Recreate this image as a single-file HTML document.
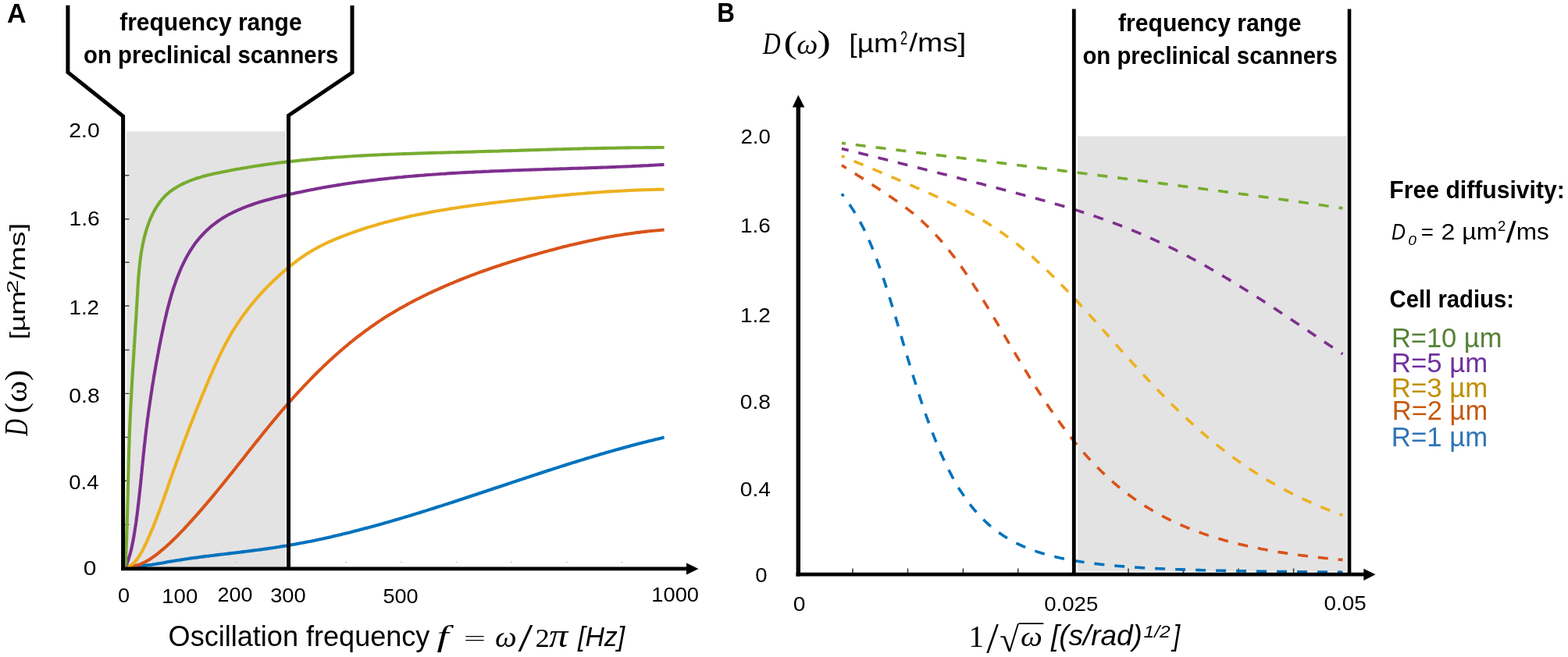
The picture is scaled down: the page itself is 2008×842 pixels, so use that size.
<!DOCTYPE html><html><head><meta charset="utf-8"><title>Diffusion spectrum D(ω)</title>
<style>html,body{margin:0;padding:0;background:#fff;overflow:hidden;width:2008px;height:842px;}svg{display:block;}text{white-space:pre;}</style></head><body>
<svg width="2008" height="842" viewBox="0 0 2008 842">
<rect width="2008" height="842" fill="#fff"/>
<rect x="162" y="168.3" width="203.6" height="558.5" fill="#e3e3e3"/>
<rect x="1380" y="174.6" width="344.5" height="557.6" fill="#e3e3e3"/>
<path d="M160,224.8h5.5M160,280.7h5.5M160,336.2h5.5M160,392.0h5.5M160,448.5h5.5M160,504.4h5.5M160,560.4h5.5M160,616.3h5.5M160,672.4h5.5" stroke="#444" stroke-width="1.4" fill="none"/>
<path d="M229.5,720.5h2M300.8,720.5h2M442.2,720.5h2M513.1,720.5h2M583.6,720.5h2M653.8,720.5h2M724.8,720.5h2M795.3,720.5h2" stroke="#bbb" stroke-width="1.2" fill="none"/>
<path d="M1092.0,734v-5.5M1162.5,734v-5.5M1233.4,734v-5.5M1303.7,734v-5.5M1445.0,734v-5.5M1515.5,734v-5.5M1586.0,734v-5.5M1656.6,734v-5.5" stroke="#333" stroke-width="1.5" fill="none"/>
<path d="M161.0,725.9 L163.4,725.9 L165.8,726.0 L168.2,726.0 L170.5,725.9 L172.9,725.8 L175.3,725.7 L177.6,725.5 L180.0,725.4 L182.4,725.1 L184.7,724.9 L187.1,724.6 L189.4,724.3 L191.8,724.0 L194.2,723.7 L196.5,723.3 L198.9,723.0 L201.2,722.6 L203.5,722.2 L205.9,721.8 L208.2,721.4 L210.6,721.0 L212.9,720.6 L215.3,720.1 L217.6,719.7 L220.0,719.3 L222.3,718.9 L224.7,718.5 L227.0,718.1 L229.4,717.8 L231.7,717.4 L234.1,717.0 L236.4,716.7 L238.8,716.3 L241.1,716.0 L243.5,715.6 L245.8,715.3 L248.2,715.0 L250.5,714.7 L252.9,714.4 L255.2,714.0 L257.6,713.7 L260.0,713.4 L262.3,713.1 L264.7,712.8 L267.1,712.6 L269.4,712.3 L271.8,712.0 L274.1,711.7 L276.5,711.4 L278.9,711.1 L281.2,710.8 L283.6,710.5 L286.0,710.3 L288.3,710.0 L290.7,709.7 L293.1,709.4 L295.4,709.1 L297.8,708.8 L300.2,708.6 L302.6,708.3 L304.9,708.0 L307.3,707.7 L309.7,707.4 L312.0,707.1 L314.4,706.8 L316.8,706.5 L319.1,706.2 L321.5,705.9 L323.9,705.6 L326.2,705.3 L328.6,705.0 L331.0,704.7 L333.3,704.4 L335.7,704.1 L338.0,703.7 L340.4,703.4 L342.8,703.1 L345.1,702.7 L347.5,702.4 L349.8,702.0 L352.2,701.7 L354.5,701.3 L356.9,701.0 L359.2,700.6 L361.6,700.2 L363.9,699.8 L366.3,699.5 L368.6,699.1 L371.0,698.7 L373.3,698.2 L375.7,697.8 L378.0,697.4 L380.3,697.0 L382.7,696.6 L385.0,696.1 L387.3,695.7 L389.7,695.2 L392.0,694.8 L394.3,694.3 L396.7,693.9 L399.0,693.4 L401.3,692.9 L403.7,692.4 L406.0,691.9 L408.3,691.5 L410.6,691.0 L412.9,690.5 L415.3,690.0 L417.6,689.4 L419.9,688.9 L422.2,688.4 L424.5,687.9 L426.8,687.3 L429.2,686.8 L431.5,686.3 L433.8,685.7 L436.1,685.2 L438.4,684.6 L440.7,684.1 L443.0,683.5 L445.3,682.9 L447.6,682.4 L449.9,681.8 L452.2,681.2 L454.5,680.6 L456.8,680.0 L459.1,679.4 L461.4,678.8 L463.7,678.2 L466.0,677.6 L468.3,677.0 L470.6,676.4 L472.9,675.8 L475.2,675.2 L477.5,674.5 L479.8,673.9 L482.1,673.3 L484.4,672.7 L486.7,672.0 L489.0,671.4 L491.2,670.7 L493.5,670.1 L495.8,669.4 L498.1,668.8 L500.4,668.1 L502.7,667.4 L504.9,666.8 L507.2,666.1 L509.5,665.4 L511.8,664.8 L514.1,664.1 L516.4,663.4 L518.6,662.7 L520.9,662.1 L523.2,661.4 L525.5,660.7 L527.7,660.0 L530.0,659.3 L532.3,658.6 L534.6,657.9 L536.8,657.2 L539.1,656.5 L541.4,655.8 L543.7,655.1 L545.9,654.4 L548.2,653.6 L550.5,652.9 L552.7,652.2 L555.0,651.5 L557.3,650.8 L559.6,650.0 L561.8,649.3 L564.1,648.6 L566.4,647.9 L568.6,647.1 L570.9,646.4 L573.2,645.7 L575.4,644.9 L577.7,644.2 L580.0,643.5 L582.2,642.7 L584.5,642.0 L586.8,641.2 L589.0,640.5 L591.3,639.8 L593.6,639.0 L595.8,638.3 L598.1,637.5 L600.3,636.8 L602.6,636.0 L604.9,635.3 L607.1,634.5 L609.4,633.8 L611.7,633.0 L613.9,632.3 L616.2,631.5 L618.4,630.8 L620.7,630.0 L623.0,629.3 L625.2,628.5 L627.5,627.8 L629.8,627.0 L632.0,626.2 L634.3,625.5 L636.5,624.7 L638.8,624.0 L641.1,623.2 L643.3,622.5 L645.6,621.7 L647.9,621.0 L650.1,620.2 L652.4,619.4 L654.6,618.7 L656.9,617.9 L659.2,617.2 L661.4,616.4 L663.7,615.7 L665.9,614.9 L668.2,614.2 L670.5,613.4 L672.7,612.7 L675.0,611.9 L677.3,611.2 L679.5,610.4 L681.8,609.7 L684.0,608.9 L686.3,608.2 L688.6,607.5 L690.8,606.7 L693.1,606.0 L695.4,605.2 L697.6,604.5 L699.9,603.8 L702.2,603.0 L704.4,602.3 L706.7,601.6 L709.0,600.8 L711.2,600.1 L713.5,599.4 L715.8,598.6 L718.0,597.9 L720.3,597.2 L722.6,596.5 L724.8,595.7 L727.1,595.0 L729.4,594.3 L731.6,593.6 L733.9,592.9 L736.2,592.2 L738.5,591.5 L740.7,590.8 L743.0,590.1 L745.3,589.4 L747.6,588.7 L749.8,588.0 L752.1,587.3 L754.4,586.6 L756.7,585.9 L758.9,585.2 L761.2,584.5 L763.5,583.9 L765.8,583.2 L768.0,582.5 L770.3,581.8 L772.6,581.2 L774.9,580.5 L777.2,579.8 L779.5,579.2 L781.7,578.5 L784.0,577.9 L786.3,577.2 L788.6,576.6 L790.9,575.9 L793.2,575.3 L795.5,574.7 L797.7,574.0 L800.0,573.4 L802.3,572.8 L804.6,572.2 L806.9,571.5 L809.2,570.9 L811.5,570.3 L813.8,569.7 L816.1,569.1 L818.4,568.5 L820.7,567.9 L823.0,567.3 L825.3,566.8 L827.6,566.2 L829.9,565.6 L832.2,565.0 L834.5,564.5 L836.8,563.9 L839.1,563.3 L841.4,562.8 L843.7,562.2 L846.0,561.7 L848.3,561.1 L850.6,560.6" fill="none" stroke="#0072BD" stroke-width="4.1" stroke-linejoin="round"/>
<path d="M161.0,725.9 L163.9,726.0 L166.8,725.9 L169.6,725.7 L172.3,725.2 L175.0,724.6 L177.7,723.8 L180.3,722.8 L182.8,721.7 L185.3,720.5 L187.8,719.1 L190.2,717.7 L192.6,716.2 L194.9,714.6 L197.2,713.0 L199.5,711.3 L201.8,709.6 L204.0,707.8 L206.2,706.0 L208.4,704.2 L210.5,702.4 L212.7,700.5 L214.8,698.6 L216.9,696.7 L219.0,694.7 L221.0,692.8 L223.0,690.8 L225.1,688.8 L227.1,686.8 L229.1,684.7 L231.0,682.7 L233.0,680.6 L235.0,678.6 L236.9,676.5 L238.8,674.4 L240.8,672.3 L242.7,670.2 L244.6,668.1 L246.5,666.0 L248.4,663.9 L250.3,661.8 L252.2,659.7 L254.0,657.6 L255.9,655.4 L257.7,653.3 L259.6,651.2 L261.4,649.0 L263.3,646.9 L265.1,644.7 L266.9,642.6 L268.8,640.4 L270.6,638.2 L272.4,636.1 L274.2,633.9 L276.0,631.7 L277.8,629.5 L279.6,627.3 L281.3,625.2 L283.1,623.0 L284.9,620.8 L286.7,618.6 L288.4,616.4 L290.2,614.2 L292.0,612.0 L293.7,609.8 L295.5,607.6 L297.3,605.4 L299.0,603.2 L300.8,601.0 L302.5,598.7 L304.3,596.5 L306.0,594.3 L307.8,592.1 L309.5,589.9 L311.3,587.7 L313.0,585.5 L314.8,583.3 L316.5,581.0 L318.3,578.8 L320.0,576.6 L321.8,574.4 L323.5,572.2 L325.3,570.0 L327.0,567.8 L328.8,565.6 L330.6,563.4 L332.3,561.2 L334.1,559.0 L335.9,556.8 L337.6,554.6 L339.4,552.4 L341.2,550.2 L343.0,548.0 L344.8,545.8 L346.5,543.7 L348.3,541.5 L350.1,539.3 L351.9,537.1 L353.8,535.0 L355.6,532.8 L357.4,530.6 L359.2,528.5 L361.0,526.3 L362.9,524.2 L364.7,522.1 L366.6,519.9 L368.4,517.8 L370.3,515.7 L372.2,513.5 L374.1,511.4 L375.9,509.3 L377.8,507.2 L379.7,505.1 L381.6,503.0 L383.6,500.9 L385.5,498.9 L387.4,496.8 L389.4,494.7 L391.3,492.7 L393.3,490.6 L395.2,488.6 L397.2,486.6 L399.2,484.5 L401.1,482.5 L403.1,480.5 L405.1,478.5 L407.1,476.5 L409.2,474.5 L411.2,472.6 L413.2,470.6 L415.3,468.6 L417.3,466.7 L419.4,464.7 L421.4,462.8 L423.5,460.9 L425.6,459.0 L427.7,457.1 L429.8,455.2 L431.9,453.3 L434.0,451.5 L436.1,449.6 L438.3,447.8 L440.4,445.9 L442.6,444.1 L444.8,442.3 L446.9,440.5 L449.1,438.7 L451.3,437.0 L453.5,435.2 L455.7,433.4 L457.9,431.7 L460.2,430.0 L462.4,428.3 L464.7,426.6 L466.9,424.9 L469.2,423.2 L471.5,421.6 L473.8,419.9 L476.1,418.3 L478.4,416.7 L480.7,415.1 L483.0,413.5 L485.4,411.9 L487.7,410.4 L490.1,408.8 L492.4,407.3 L494.8,405.8 L497.2,404.3 L499.6,402.8 L502.0,401.4 L504.4,399.9 L506.9,398.5 L509.3,397.1 L511.8,395.6 L514.2,394.2 L516.7,392.9 L519.1,391.5 L521.6,390.1 L524.1,388.8 L526.6,387.5 L529.1,386.1 L531.6,384.8 L534.1,383.5 L536.6,382.3 L539.2,381.0 L541.7,379.7 L544.2,378.5 L546.8,377.3 L549.3,376.0 L551.9,374.8 L554.4,373.6 L557.0,372.4 L559.6,371.3 L562.2,370.1 L564.7,369.0 L567.3,367.8 L569.9,366.7 L572.5,365.6 L575.1,364.4 L577.7,363.3 L580.3,362.3 L582.9,361.2 L585.5,360.1 L588.2,359.0 L590.8,358.0 L593.4,356.9 L596.0,355.9 L598.7,354.9 L601.3,353.9 L603.9,352.9 L606.6,351.9 L609.2,350.9 L611.9,349.9 L614.5,348.9 L617.2,348.0 L619.8,347.0 L622.5,346.1 L625.1,345.2 L627.8,344.2 L630.5,343.3 L633.1,342.4 L635.8,341.5 L638.5,340.6 L641.2,339.7 L643.8,338.8 L646.5,338.0 L649.2,337.1 L651.9,336.2 L654.6,335.4 L657.3,334.5 L660.0,333.7 L662.7,332.9 L665.4,332.0 L668.1,331.2 L670.8,330.4 L673.5,329.6 L676.2,328.8 L678.9,328.0 L681.6,327.2 L684.4,326.4 L687.1,325.7 L689.8,324.9 L692.5,324.1 L695.2,323.4 L698.0,322.6 L700.7,321.9 L703.4,321.1 L706.1,320.4 L708.9,319.7 L711.6,319.0 L714.3,318.2 L717.1,317.5 L719.8,316.8 L722.6,316.1 L725.3,315.5 L728.1,314.8 L730.8,314.1 L733.5,313.5 L736.3,312.8 L739.1,312.2 L741.8,311.5 L744.6,310.9 L747.3,310.3 L750.1,309.7 L752.8,309.1 L755.6,308.5 L758.4,307.9 L761.1,307.3 L763.9,306.7 L766.7,306.2 L769.4,305.6 L772.2,305.1 L775.0,304.6 L777.8,304.1 L780.6,303.6 L783.3,303.1 L786.1,302.6 L788.9,302.1 L791.7,301.6 L794.5,301.2 L797.3,300.7 L800.1,300.3 L802.9,299.9 L805.7,299.5 L808.5,299.1 L811.2,298.7 L814.1,298.3 L816.9,297.9 L819.7,297.6 L822.5,297.2 L825.3,296.9 L828.1,296.6 L830.9,296.3 L833.7,296.0 L836.5,295.7 L839.3,295.5 L842.2,295.2 L845.0,295.0 L847.8,294.7 L850.6,294.5" fill="none" stroke="#D95319" stroke-width="4.1" stroke-linejoin="round"/>
<path d="M161.0,725.9 L164.2,725.6 L167.1,724.6 L169.7,722.9 L172.0,720.8 L174.1,718.5 L176.0,716.0 L177.8,713.4 L179.5,710.7 L181.1,708.0 L182.6,705.2 L184.0,702.4 L185.4,699.5 L186.8,696.6 L188.1,693.8 L189.4,690.9 L190.7,688.0 L192.0,685.1 L193.2,682.2 L194.5,679.3 L195.7,676.4 L196.9,673.5 L198.0,670.5 L199.2,667.6 L200.3,664.6 L201.4,661.7 L202.6,658.8 L203.7,655.8 L204.7,652.8 L205.8,649.9 L206.9,646.9 L208.0,644.0 L209.0,641.0 L210.1,638.0 L211.1,635.0 L212.1,632.1 L213.2,629.1 L214.2,626.1 L215.2,623.2 L216.3,620.2 L217.3,617.2 L218.3,614.2 L219.4,611.3 L220.4,608.3 L221.5,605.3 L222.5,602.4 L223.6,599.4 L224.6,596.5 L225.7,593.5 L226.8,590.5 L227.8,587.6 L228.9,584.6 L230.0,581.7 L231.1,578.7 L232.2,575.8 L233.2,572.8 L234.3,569.9 L235.4,566.9 L236.5,564.0 L237.7,561.1 L238.8,558.1 L239.9,555.2 L241.0,552.2 L242.1,549.3 L243.3,546.4 L244.4,543.4 L245.6,540.5 L246.7,537.6 L247.9,534.6 L249.0,531.7 L250.2,528.8 L251.3,525.8 L252.5,522.9 L253.7,520.0 L254.9,517.0 L256.1,514.1 L257.3,511.2 L258.4,508.3 L259.6,505.3 L260.9,502.4 L262.1,499.5 L263.3,496.6 L264.5,493.6 L265.7,490.7 L267.0,487.8 L268.2,484.9 L269.5,481.9 L270.7,479.0 L272.0,476.1 L273.3,473.2 L274.5,470.3 L275.9,467.4 L277.2,464.5 L278.5,461.7 L279.8,458.8 L281.2,455.9 L282.6,453.1 L284.0,450.2 L285.4,447.4 L286.8,444.6 L288.3,441.8 L289.8,439.0 L291.3,436.3 L292.8,433.5 L294.3,430.8 L295.9,428.0 L297.5,425.3 L299.1,422.6 L300.8,420.0 L302.5,417.3 L304.2,414.7 L305.9,412.1 L307.7,409.5 L309.4,406.9 L311.3,404.4 L313.1,401.9 L315.0,399.4 L316.9,396.9 L318.8,394.4 L320.7,392.0 L322.7,389.5 L324.7,387.1 L326.7,384.7 L328.8,382.3 L330.8,380.0 L332.9,377.6 L335.0,375.3 L337.2,373.0 L339.3,370.7 L341.5,368.5 L343.7,366.2 L346.0,364.0 L348.2,361.8 L350.5,359.6 L352.8,357.4 L355.1,355.3 L357.4,353.1 L359.8,351.0 L362.2,348.9 L364.6,346.8 L367.0,344.8 L369.4,342.7 L371.9,340.7 L374.4,338.7 L376.9,336.8 L379.4,334.8 L381.9,332.9 L384.5,331.1 L387.1,329.3 L389.7,327.5 L392.3,325.7 L395.0,324.1 L397.7,322.4 L400.4,320.8 L403.2,319.3 L405.9,317.7 L408.7,316.3 L411.5,314.8 L414.3,313.4 L417.2,312.0 L420.0,310.7 L422.9,309.4 L425.8,308.1 L428.6,306.9 L431.6,305.7 L434.5,304.5 L437.4,303.3 L440.3,302.2 L443.3,301.1 L446.2,300.0 L449.2,298.9 L452.1,297.8 L455.1,296.8 L458.1,295.8 L461.1,294.7 L464.0,293.8 L467.0,292.8 L470.0,291.8 L473.0,290.9 L476.0,290.0 L479.0,289.1 L482.1,288.2 L485.1,287.3 L488.1,286.4 L491.1,285.6 L494.2,284.8 L497.2,284.0 L500.3,283.2 L503.3,282.4 L506.4,281.6 L509.4,280.9 L512.5,280.1 L515.5,279.4 L518.6,278.7 L521.7,278.0 L524.7,277.3 L527.8,276.6 L530.9,276.0 L534.0,275.3 L537.1,274.7 L540.2,274.1 L543.3,273.5 L546.4,272.9 L549.5,272.3 L552.6,271.7 L555.7,271.1 L558.8,270.6 L561.9,270.0 L565.0,269.5 L568.1,269.0 L571.2,268.4 L574.3,267.9 L577.5,267.4 L580.6,266.9 L583.7,266.4 L586.8,266.0 L590.0,265.5 L593.1,265.0 L596.2,264.6 L599.4,264.1 L602.5,263.7 L605.6,263.3 L608.8,262.8 L611.9,262.4 L615.0,262.0 L618.2,261.6 L621.3,261.2 L624.4,260.8 L627.6,260.4 L630.7,260.0 L633.9,259.6 L637.0,259.3 L640.1,258.9 L643.3,258.5 L646.4,258.2 L649.6,257.8 L652.7,257.4 L655.8,257.1 L659.0,256.7 L662.1,256.4 L665.2,256.0 L668.4,255.7 L671.5,255.3 L674.7,255.0 L677.8,254.6 L680.9,254.3 L684.0,254.0 L687.2,253.6 L690.3,253.3 L693.4,253.0 L696.6,252.7 L699.7,252.3 L702.8,252.0 L706.0,251.7 L709.1,251.4 L712.2,251.1 L715.4,250.8 L718.5,250.5 L721.6,250.2 L724.7,249.9 L727.9,249.6 L731.0,249.3 L734.1,249.0 L737.3,248.8 L740.4,248.5 L743.5,248.2 L746.7,248.0 L749.8,247.7 L752.9,247.4 L756.1,247.2 L759.2,247.0 L762.3,246.7 L765.5,246.5 L768.6,246.3 L771.7,246.1 L774.9,245.8 L778.0,245.6 L781.2,245.4 L784.3,245.2 L787.4,245.0 L790.6,244.9 L793.7,244.7 L796.9,244.5 L800.0,244.4 L803.2,244.2 L806.3,244.0 L809.5,243.9 L812.6,243.8 L815.8,243.6 L819.0,243.5 L822.1,243.4 L825.3,243.3 L828.4,243.2 L831.6,243.1 L834.8,243.0 L837.9,243.0 L841.1,242.9 L844.3,242.8 L847.5,242.8 L850.6,242.7" fill="none" stroke="#EDB120" stroke-width="4.1" stroke-linejoin="round"/>
<path d="M161.0,725.9 L162.3,722.7 L163.6,719.5 L164.7,716.2 L165.7,712.9 L166.7,709.6 L167.6,706.2 L168.4,702.8 L169.1,699.4 L169.8,696.0 L170.5,692.5 L171.1,689.1 L171.7,685.6 L172.3,682.2 L172.8,678.7 L173.3,675.2 L173.9,671.8 L174.4,668.3 L174.8,664.8 L175.3,661.3 L175.8,657.9 L176.2,654.4 L176.6,650.9 L177.0,647.4 L177.5,643.9 L177.8,640.4 L178.2,636.9 L178.6,633.4 L179.0,629.9 L179.3,626.4 L179.7,622.9 L180.1,619.4 L180.4,615.9 L180.8,612.4 L181.1,608.9 L181.5,605.4 L181.8,601.9 L182.1,598.4 L182.5,594.9 L182.8,591.4 L183.2,587.9 L183.5,584.4 L183.9,580.9 L184.3,577.4 L184.6,573.9 L185.0,570.4 L185.4,566.9 L185.8,563.5 L186.2,560.0 L186.6,556.5 L187.0,553.0 L187.4,549.5 L187.9,546.1 L188.3,542.6 L188.7,539.1 L189.2,535.7 L189.7,532.2 L190.1,528.7 L190.6,525.3 L191.1,521.8 L191.6,518.3 L192.1,514.9 L192.6,511.4 L193.1,508.0 L193.6,504.5 L194.2,501.1 L194.7,497.6 L195.2,494.2 L195.8,490.7 L196.4,487.3 L196.9,483.8 L197.5,480.4 L198.1,476.9 L198.7,473.5 L199.3,470.0 L199.9,466.6 L200.5,463.2 L201.2,459.7 L201.8,456.3 L202.5,452.8 L203.1,449.4 L203.8,446.0 L204.4,442.5 L205.1,439.1 L205.8,435.6 L206.5,432.2 L207.2,428.8 L207.9,425.3 L208.7,421.9 L209.4,418.4 L210.1,415.0 L210.9,411.6 L211.7,408.1 L212.5,404.7 L213.3,401.3 L214.1,397.9 L215.0,394.5 L215.9,391.1 L216.8,387.7 L217.7,384.3 L218.7,380.9 L219.6,377.5 L220.7,374.2 L221.7,370.8 L222.8,367.5 L224.0,364.1 L225.1,360.8 L226.3,357.5 L227.6,354.3 L228.9,351.0 L230.2,347.7 L231.6,344.5 L233.0,341.3 L234.5,338.1 L236.1,334.9 L237.7,331.8 L239.3,328.7 L241.0,325.7 L242.8,322.7 L244.7,319.7 L246.6,316.8 L248.5,313.9 L250.6,311.1 L252.7,308.4 L254.9,305.7 L257.2,303.1 L259.6,300.5 L262.0,298.0 L264.5,295.6 L267.0,293.2 L269.6,290.9 L272.3,288.7 L275.0,286.6 L277.8,284.5 L280.6,282.5 L283.5,280.6 L286.4,278.8 L289.4,277.0 L292.5,275.3 L295.5,273.7 L298.6,272.1 L301.8,270.6 L305.0,269.2 L308.2,267.8 L311.5,266.4 L314.7,265.1 L318.0,263.9 L321.4,262.7 L324.7,261.5 L328.1,260.4 L331.5,259.3 L334.9,258.3 L338.3,257.3 L341.8,256.3 L345.2,255.4 L348.7,254.5 L352.1,253.6 L355.6,252.7 L359.0,251.9 L362.5,251.0 L366.0,250.2 L369.4,249.4 L372.8,248.6 L376.3,247.9 L379.7,247.1 L383.2,246.4 L386.6,245.7 L390.0,244.9 L393.5,244.2 L396.9,243.6 L400.3,242.9 L403.8,242.2 L407.2,241.6 L410.7,241.0 L414.1,240.3 L417.5,239.7 L421.0,239.1 L424.4,238.6 L427.8,238.0 L431.3,237.4 L434.7,236.9 L438.2,236.3 L441.6,235.8 L445.1,235.3 L448.5,234.8 L452.0,234.3 L455.5,233.8 L458.9,233.3 L462.4,232.9 L465.8,232.4 L469.3,232.0 L472.8,231.5 L476.2,231.1 L479.7,230.7 L483.2,230.3 L486.6,229.9 L490.1,229.5 L493.6,229.1 L497.0,228.7 L500.5,228.3 L504.0,228.0 L507.5,227.6 L511.0,227.3 L514.4,227.0 L517.9,226.6 L521.4,226.3 L524.9,226.0 L528.4,225.7 L531.9,225.4 L535.4,225.1 L538.8,224.8 L542.3,224.6 L545.8,224.3 L549.3,224.0 L552.8,223.8 L556.3,223.5 L559.8,223.3 L563.3,223.0 L566.8,222.8 L570.3,222.6 L573.8,222.3 L577.3,222.1 L580.8,221.9 L584.3,221.7 L587.8,221.5 L591.3,221.3 L594.8,221.1 L598.3,220.9 L601.8,220.8 L605.3,220.6 L608.8,220.4 L612.3,220.2 L615.8,220.1 L619.3,219.9 L622.8,219.7 L626.3,219.6 L629.8,219.4 L633.4,219.3 L636.9,219.2 L640.4,219.0 L643.9,218.9 L647.4,218.7 L650.9,218.6 L654.4,218.5 L657.9,218.3 L661.4,218.2 L664.9,218.1 L668.4,218.0 L672.0,217.8 L675.5,217.7 L679.0,217.6 L682.5,217.5 L686.0,217.4 L689.5,217.3 L693.0,217.2 L696.5,217.0 L700.0,216.9 L703.5,216.8 L707.1,216.7 L710.6,216.6 L714.1,216.5 L717.6,216.4 L721.1,216.3 L724.6,216.2 L728.1,216.0 L731.6,215.9 L735.1,215.8 L738.6,215.7 L742.1,215.6 L745.6,215.5 L749.2,215.4 L752.7,215.2 L756.2,215.1 L759.7,215.0 L763.2,214.9 L766.7,214.8 L770.2,214.6 L773.7,214.5 L777.2,214.4 L780.7,214.2 L784.2,214.1 L787.7,214.0 L791.2,213.8 L794.7,213.7 L798.2,213.5 L801.7,213.4 L805.2,213.2 L808.7,213.1 L812.1,212.9 L815.6,212.8 L819.1,212.6 L822.6,212.4 L826.1,212.2 L829.6,212.1 L833.1,211.9 L836.6,211.7 L840.0,211.5 L843.5,211.3 L847.0,211.1 L850.5,210.9" fill="none" stroke="#7E2F8E" stroke-width="4.1" stroke-linejoin="round"/>
<path d="M160.6,725.5 L160.8,721.7 L161.0,718.0 L161.1,714.2 L161.3,710.4 L161.5,706.7 L161.6,702.9 L161.8,699.1 L161.9,695.4 L162.1,691.6 L162.2,687.8 L162.3,684.0 L162.4,680.2 L162.6,676.5 L162.7,672.7 L162.8,668.9 L162.9,665.1 L163.0,661.3 L163.1,657.5 L163.2,653.7 L163.3,649.9 L163.4,646.2 L163.5,642.4 L163.6,638.6 L163.7,634.8 L163.8,631.0 L163.8,627.2 L163.9,623.4 L164.0,619.6 L164.1,615.8 L164.2,612.0 L164.3,608.2 L164.4,604.4 L164.5,600.6 L164.6,596.9 L164.7,593.1 L164.8,589.3 L164.9,585.5 L165.0,581.7 L165.1,577.9 L165.2,574.1 L165.4,570.4 L165.5,566.6 L165.6,562.8 L165.7,559.0 L165.9,555.2 L166.0,551.5 L166.2,547.7 L166.3,543.9 L166.5,540.2 L166.7,536.4 L166.8,532.6 L167.0,528.9 L167.2,525.1 L167.4,521.4 L167.6,517.6 L167.8,513.8 L168.0,510.1 L168.2,506.3 L168.4,502.6 L168.6,498.8 L168.8,495.1 L169.0,491.3 L169.2,487.6 L169.4,483.8 L169.7,480.1 L169.9,476.3 L170.1,472.5 L170.4,468.8 L170.6,465.0 L170.8,461.3 L171.1,457.5 L171.3,453.8 L171.5,450.0 L171.8,446.2 L172.0,442.5 L172.3,438.7 L172.5,434.9 L172.7,431.2 L173.0,427.4 L173.2,423.6 L173.4,419.8 L173.7,416.1 L173.9,412.3 L174.2,408.5 L174.4,404.7 L174.6,400.9 L174.8,397.1 L175.1,393.3 L175.3,389.5 L175.5,385.7 L175.7,381.9 L176.0,378.1 L176.2,374.3 L176.4,370.5 L176.6,366.6 L176.9,362.8 L177.1,359.0 L177.4,355.2 L177.7,351.4 L178.0,347.6 L178.4,343.8 L178.8,340.0 L179.2,336.2 L179.7,332.4 L180.2,328.6 L180.7,324.9 L181.3,321.1 L182.0,317.4 L182.7,313.7 L183.5,310.0 L184.3,306.3 L185.2,302.6 L186.2,299.0 L187.3,295.3 L188.4,291.7 L189.6,288.1 L190.9,284.6 L192.3,281.1 L193.8,277.6 L195.4,274.3 L197.1,270.9 L198.9,267.7 L200.8,264.6 L202.9,261.5 L205.0,258.6 L207.3,255.7 L209.7,253.0 L212.2,250.4 L214.9,248.0 L217.7,245.7 L220.7,243.5 L223.7,241.4 L226.9,239.5 L230.1,237.7 L233.5,235.9 L236.9,234.3 L240.4,232.8 L243.9,231.4 L247.5,230.1 L251.1,228.8 L254.8,227.7 L258.5,226.6 L262.2,225.6 L265.9,224.6 L269.6,223.7 L273.4,222.8 L277.1,222.0 L280.9,221.2 L284.6,220.4 L288.4,219.7 L292.2,218.9 L295.9,218.2 L299.7,217.5 L303.5,216.8 L307.3,216.2 L311.0,215.5 L314.8,214.9 L318.6,214.3 L322.3,213.7 L326.1,213.1 L329.8,212.5 L333.6,211.9 L337.4,211.4 L341.1,210.8 L344.9,210.3 L348.7,209.8 L352.4,209.3 L356.2,208.8 L360.0,208.3 L363.7,207.9 L367.5,207.4 L371.2,207.0 L375.0,206.6 L378.8,206.2 L382.5,205.8 L386.3,205.4 L390.0,205.0 L393.8,204.6 L397.6,204.3 L401.3,203.9 L405.1,203.6 L408.9,203.3 L412.6,203.0 L416.4,202.6 L420.1,202.3 L423.9,202.1 L427.7,201.8 L431.4,201.5 L435.2,201.2 L438.9,201.0 L442.7,200.7 L446.5,200.5 L450.2,200.3 L454.0,200.0 L457.7,199.8 L461.5,199.6 L465.3,199.4 L469.0,199.2 L472.8,199.0 L476.6,198.8 L480.3,198.6 L484.1,198.5 L487.8,198.3 L491.6,198.1 L495.4,198.0 L499.1,197.8 L502.9,197.7 L506.7,197.5 L510.4,197.4 L514.2,197.2 L518.0,197.1 L521.7,197.0 L525.5,196.9 L529.3,196.7 L533.0,196.6 L536.8,196.5 L540.6,196.4 L544.3,196.3 L548.1,196.1 L551.9,196.0 L555.7,195.9 L559.4,195.8 L563.2,195.7 L567.0,195.6 L570.7,195.5 L574.5,195.4 L578.3,195.3 L582.1,195.2 L585.8,195.1 L589.6,195.0 L593.4,194.9 L597.2,194.8 L601.0,194.7 L604.7,194.6 L608.5,194.5 L612.3,194.3 L616.1,194.2 L619.9,194.1 L623.7,194.0 L627.4,193.9 L631.2,193.8 L635.0,193.7 L638.8,193.6 L642.6,193.4 L646.4,193.3 L650.2,193.2 L653.9,193.1 L657.7,193.0 L661.5,192.9 L665.3,192.7 L669.1,192.6 L672.9,192.5 L676.7,192.4 L680.5,192.3 L684.3,192.2 L688.1,192.1 L691.8,192.0 L695.6,191.8 L699.4,191.7 L703.2,191.6 L707.0,191.5 L710.8,191.4 L714.6,191.3 L718.4,191.2 L722.2,191.1 L725.9,191.0 L729.7,190.9 L733.5,190.8 L737.3,190.7 L741.1,190.6 L744.9,190.5 L748.7,190.4 L752.5,190.3 L756.2,190.3 L760.0,190.2 L763.8,190.1 L767.6,190.0 L771.4,189.9 L775.2,189.9 L778.9,189.8 L782.7,189.7 L786.5,189.7 L790.3,189.6 L794.0,189.5 L797.8,189.5 L801.6,189.4 L805.4,189.4 L809.1,189.3 L812.9,189.3 L816.7,189.2 L820.5,189.2 L824.2,189.2 L828.0,189.1 L831.8,189.1 L835.5,189.1 L839.3,189.1 L843.1,189.0 L846.8,189.0 L850.6,189.0" fill="none" stroke="#77AC30" stroke-width="4.1" stroke-linejoin="round"/>
<path d="M1077.9,248.3 L1079.5,250.4 L1081.1,252.6 L1082.7,254.8 L1084.4,257.0 L1086.0,259.3 L1087.6,261.6 L1089.2,264.0 L1090.8,266.4 L1092.4,268.9 L1094.0,271.4 L1095.6,274.0 L1097.2,276.7 L1098.8,279.5 L1100.4,282.4 L1102.0,285.3 L1103.6,288.4 L1105.3,291.5 L1106.9,294.7 L1108.5,298.1 L1110.1,301.5 L1111.7,305.1 L1113.3,308.8 L1114.9,312.5 L1116.5,316.4 L1118.1,320.4 L1119.7,324.5 L1121.3,328.7 L1122.9,333.0 L1124.5,337.4 L1126.2,341.9 L1127.8,346.4 L1129.4,351.1 L1131.0,355.9 L1132.6,360.7 L1134.2,365.7 L1135.8,370.7 L1137.4,375.7 L1139.0,380.8 L1140.6,386.0 L1142.2,391.3 L1143.8,396.5 L1145.4,401.9 L1147.1,407.2 L1148.7,412.6 L1150.3,418.0 L1151.9,423.4 L1153.5,428.8 L1155.1,434.3 L1156.7,439.7 L1158.3,445.1 L1159.9,450.5 L1161.5,455.9 L1163.1,461.2 L1164.7,466.6 L1166.3,471.9 L1168.0,477.1 L1169.6,482.4 L1171.2,487.5 L1172.8,492.7 L1174.4,497.7 L1176.0,502.7 L1177.6,507.7 L1179.2,512.6 L1180.8,517.4 L1182.4,522.2 L1184.0,526.9 L1185.6,531.5 L1187.2,536.0 L1188.9,540.5 L1190.5,544.9 L1192.1,549.2 L1193.7,553.5 L1195.3,557.6 L1196.9,561.7 L1198.5,565.7 L1200.1,569.7 L1201.7,573.5 L1203.3,577.3 L1204.9,581.0 L1206.5,584.6 L1208.1,588.1 L1209.8,591.6 L1211.4,595.0 L1213.0,598.3 L1214.6,601.5 L1216.2,604.7 L1217.8,607.7 L1219.4,610.8 L1221.0,613.7 L1222.6,616.6 L1224.2,619.4 L1225.8,622.1 L1227.4,624.8 L1229.0,627.4 L1230.7,629.9 L1232.3,632.4 L1233.9,634.8 L1235.5,637.2 L1237.1,639.5 L1238.7,641.7 L1240.3,643.9 L1241.9,646.0 L1243.5,648.1 L1245.1,650.1 L1246.7,652.1 L1248.3,654.0 L1249.9,655.8 L1251.6,657.7 L1253.2,659.4 L1254.8,661.2 L1256.4,662.9 L1258.0,664.5 L1259.6,666.1 L1261.2,667.7 L1262.8,669.2 L1264.4,670.6 L1266.0,672.1 L1267.6,673.5 L1269.2,674.9 L1270.8,676.2 L1272.5,677.5 L1274.1,678.8 L1275.7,680.0 L1277.3,681.2 L1278.9,682.4 L1280.5,683.5 L1282.1,684.6 L1283.7,685.7 L1285.3,686.7 L1286.9,687.8 L1288.5,688.8 L1290.1,689.8 L1291.7,690.7 L1293.4,691.6 L1295.0,692.5 L1296.6,693.4 L1298.2,694.3 L1299.8,695.1 L1301.4,696.0 L1303.0,696.8 L1304.6,697.5 L1306.2,698.3 L1307.8,699.0 L1309.4,699.8 L1311.0,700.5 L1312.7,701.1 L1314.3,701.8 L1315.9,702.5 L1317.5,703.1 L1319.1,703.7 L1320.7,704.4 L1322.3,704.9 L1323.9,705.5 L1325.5,706.1 L1327.1,706.6 L1328.7,707.2 L1330.3,707.7 L1331.9,708.2 L1333.6,708.7 L1335.2,709.2 L1336.8,709.7 L1338.4,710.2 L1340.0,710.6 L1341.6,711.1 L1343.2,711.5 L1344.8,711.9 L1346.4,712.4 L1348.0,712.8 L1349.6,713.2 L1351.2,713.6 L1352.8,713.9 L1354.5,714.3 L1356.1,714.7 L1357.7,715.0 L1359.3,715.4 L1360.9,715.7 L1362.5,716.1 L1364.1,716.4 L1365.7,716.7 L1367.3,717.0 L1368.9,717.3 L1370.5,717.6 L1372.1,717.9 L1373.7,718.2 L1375.4,718.5 L1377.0,718.8 L1378.6,719.0 L1380.2,719.3 L1381.8,719.5 L1383.4,719.8 L1385.0,720.0 L1386.6,720.3 L1388.2,720.5 L1389.8,720.8 L1391.4,721.0 L1393.0,721.2 L1394.6,721.4 L1396.3,721.6 L1397.9,721.8 L1399.5,722.0 L1401.1,722.2 L1402.7,722.4 L1404.3,722.6 L1405.9,722.8 L1407.5,723.0 L1409.1,723.2 L1410.7,723.4 L1412.3,723.5 L1413.9,723.7 L1415.5,723.9 L1417.2,724.0 L1418.8,724.2 L1420.4,724.4 L1422.0,724.5 L1423.6,724.7 L1425.2,724.8 L1426.8,725.0 L1428.4,725.1 L1430.0,725.2 L1431.6,725.4 L1433.2,725.5 L1434.8,725.6 L1436.4,725.8 L1438.1,725.9 L1439.7,726.0 L1441.3,726.2 L1442.9,726.3 L1444.5,726.4 L1446.1,726.5 L1447.7,726.6 L1449.3,726.7 L1450.9,726.8 L1452.5,727.0 L1454.1,727.1 L1455.7,727.2 L1457.3,727.3 L1459.0,727.4 L1460.6,727.5 L1462.2,727.6 L1463.8,727.7 L1465.4,727.8 L1467.0,727.8 L1468.6,727.9 L1470.2,728.0 L1471.8,728.1 L1473.4,728.2 L1475.0,728.3 L1476.6,728.4 L1478.2,728.4 L1479.9,728.5 L1481.5,728.6 L1483.1,728.7 L1484.7,728.8 L1486.3,728.8 L1487.9,728.9 L1489.5,729.0 L1491.1,729.0 L1492.7,729.1 L1494.3,729.2 L1495.9,729.3 L1497.5,729.3 L1499.1,729.4 L1500.8,729.5 L1502.4,729.5 L1504.0,729.6 L1505.6,729.6 L1507.2,729.7 L1508.8,729.8 L1510.4,729.8 L1512.0,729.9 L1513.6,729.9 L1515.2,730.0 L1516.8,730.0 L1518.4,730.1 L1520.0,730.1 L1521.7,730.2 L1523.3,730.2 L1524.9,730.3 L1526.5,730.3 L1528.1,730.4 L1529.7,730.4 L1531.3,730.5 L1532.9,730.5 L1534.5,730.6 L1536.1,730.6 L1537.7,730.7 L1539.3,730.7 L1540.9,730.8 L1542.6,730.8 L1544.2,730.8 L1545.8,730.9 L1547.4,730.9 L1549.0,731.0 L1550.6,731.0 L1552.2,731.0 L1553.8,731.1 L1555.4,731.1 L1557.0,731.2 L1558.6,731.2 L1560.2,731.2 L1561.8,731.3 L1563.5,731.3 L1565.1,731.3 L1566.7,731.4 L1568.3,731.4 L1569.9,731.4 L1571.5,731.5 L1573.1,731.5 L1574.7,731.5 L1576.3,731.6 L1577.9,731.6 L1579.5,731.6 L1581.1,731.7 L1582.7,731.7 L1584.4,731.7 L1586.0,731.7 L1587.6,731.8 L1589.2,731.8 L1590.8,731.8 L1592.4,731.9 L1594.0,731.9 L1595.6,731.9 L1597.2,731.9 L1598.8,732.0 L1600.4,732.0 L1602.0,732.0 L1603.6,732.0 L1605.3,732.1 L1606.9,732.1 L1608.5,732.1 L1610.1,732.1 L1611.7,732.2 L1613.3,732.2 L1614.9,732.2 L1616.5,732.2 L1618.1,732.2 L1619.7,732.3 L1621.3,732.3 L1622.9,732.3 L1624.5,732.3 L1626.2,732.3 L1627.8,732.4 L1629.4,732.4 L1631.0,732.4 L1632.6,732.4 L1634.2,732.4 L1635.8,732.5 L1637.4,732.5 L1639.0,732.5 L1640.6,732.5 L1642.2,732.5 L1643.8,732.6 L1645.4,732.6 L1647.1,732.6 L1648.7,732.6 L1650.3,732.6 L1651.9,732.6 L1653.5,732.7 L1655.1,732.7 L1656.7,732.7 L1658.3,732.7 L1659.9,732.7 L1661.5,732.7 L1663.1,732.7 L1664.7,732.8 L1666.3,732.8 L1668.0,732.8 L1669.6,732.8 L1671.2,732.8 L1672.8,732.8 L1674.4,732.8 L1676.0,732.9 L1677.6,732.9 L1679.2,732.9 L1680.8,732.9 L1682.4,732.9 L1684.0,732.9 L1685.6,732.9 L1687.2,733.0 L1688.9,733.0 L1690.5,733.0 L1692.1,733.0 L1693.7,733.0 L1695.3,733.0 L1696.9,733.0 L1698.5,733.0 L1700.1,733.0 L1701.7,733.1 L1703.3,733.1 L1704.9,733.1 L1706.5,733.1 L1708.1,733.1 L1709.8,733.1 L1711.4,733.1 L1713.0,733.1 L1714.6,733.1 L1716.2,733.2 L1717.8,733.2 L1719.4,733.2" fill="none" stroke="#0072BD" stroke-width="3.6" stroke-dasharray="13 13" stroke-dashoffset="9"/>
<path d="M1077.9,211.7 L1079.5,212.7 L1081.1,213.8 L1082.7,214.8 L1084.4,215.8 L1086.0,216.8 L1087.6,217.8 L1089.2,218.8 L1090.8,219.9 L1092.4,220.9 L1094.0,221.9 L1095.6,222.9 L1097.2,223.9 L1098.8,225.0 L1100.4,226.0 L1102.0,227.0 L1103.6,228.1 L1105.3,229.1 L1106.9,230.1 L1108.5,231.2 L1110.1,232.2 L1111.7,233.2 L1113.3,234.3 L1114.9,235.3 L1116.5,236.4 L1118.1,237.4 L1119.7,238.5 L1121.3,239.5 L1122.9,240.6 L1124.5,241.6 L1126.2,242.7 L1127.8,243.7 L1129.4,244.8 L1131.0,245.9 L1132.6,246.9 L1134.2,248.0 L1135.8,249.1 L1137.4,250.2 L1139.0,251.3 L1140.6,252.3 L1142.2,253.4 L1143.8,254.5 L1145.4,255.7 L1147.1,256.8 L1148.7,257.9 L1150.3,259.0 L1151.9,260.2 L1153.5,261.4 L1155.1,262.5 L1156.7,263.7 L1158.3,264.9 L1159.9,266.1 L1161.5,267.4 L1163.1,268.6 L1164.7,269.9 L1166.3,271.1 L1168.0,272.4 L1169.6,273.7 L1171.2,275.1 L1172.8,276.4 L1174.4,277.8 L1176.0,279.2 L1177.6,280.6 L1179.2,282.0 L1180.8,283.5 L1182.4,285.0 L1184.0,286.5 L1185.6,288.0 L1187.2,289.6 L1188.9,291.1 L1190.5,292.7 L1192.1,294.4 L1193.7,296.0 L1195.3,297.7 L1196.9,299.4 L1198.5,301.1 L1200.1,302.9 L1201.7,304.7 L1203.3,306.5 L1204.9,308.3 L1206.5,310.2 L1208.1,312.1 L1209.8,314.0 L1211.4,316.0 L1213.0,317.9 L1214.6,319.9 L1216.2,322.0 L1217.8,324.0 L1219.4,326.1 L1221.0,328.2 L1222.6,330.3 L1224.2,332.5 L1225.8,334.7 L1227.4,336.9 L1229.0,339.1 L1230.7,341.3 L1232.3,343.6 L1233.9,345.9 L1235.5,348.2 L1237.1,350.6 L1238.7,353.0 L1240.3,355.3 L1241.9,357.8 L1243.5,360.2 L1245.1,362.6 L1246.7,365.1 L1248.3,367.6 L1249.9,370.1 L1251.6,372.6 L1253.2,375.1 L1254.8,377.7 L1256.4,380.3 L1258.0,382.8 L1259.6,385.4 L1261.2,388.0 L1262.8,390.7 L1264.4,393.3 L1266.0,395.9 L1267.6,398.6 L1269.2,401.3 L1270.8,403.9 L1272.5,406.6 L1274.1,409.3 L1275.7,412.0 L1277.3,414.7 L1278.9,417.4 L1280.5,420.1 L1282.1,422.8 L1283.7,425.5 L1285.3,428.2 L1286.9,430.9 L1288.5,433.6 L1290.1,436.4 L1291.7,439.1 L1293.4,441.8 L1295.0,444.5 L1296.6,447.2 L1298.2,449.9 L1299.8,452.6 L1301.4,455.3 L1303.0,458.0 L1304.6,460.6 L1306.2,463.3 L1307.8,466.0 L1309.4,468.6 L1311.0,471.3 L1312.7,473.9 L1314.3,476.5 L1315.9,479.2 L1317.5,481.8 L1319.1,484.4 L1320.7,487.0 L1322.3,489.5 L1323.9,492.1 L1325.5,494.6 L1327.1,497.2 L1328.7,499.7 L1330.3,502.2 L1331.9,504.7 L1333.6,507.1 L1335.2,509.6 L1336.8,512.0 L1338.4,514.5 L1340.0,516.9 L1341.6,519.3 L1343.2,521.6 L1344.8,524.0 L1346.4,526.3 L1348.0,528.7 L1349.6,531.0 L1351.2,533.3 L1352.8,535.5 L1354.5,537.8 L1356.1,540.0 L1357.7,542.2 L1359.3,544.4 L1360.9,546.6 L1362.5,548.7 L1364.1,550.9 L1365.7,553.0 L1367.3,555.1 L1368.9,557.2 L1370.5,559.2 L1372.1,561.3 L1373.7,563.3 L1375.4,565.3 L1377.0,567.3 L1378.6,569.2 L1380.2,571.2 L1381.8,573.1 L1383.4,575.0 L1385.0,576.9 L1386.6,578.7 L1388.2,580.6 L1389.8,582.4 L1391.4,584.2 L1393.0,586.0 L1394.6,587.7 L1396.3,589.5 L1397.9,591.2 L1399.5,592.9 L1401.1,594.6 L1402.7,596.2 L1404.3,597.9 L1405.9,599.5 L1407.5,601.1 L1409.1,602.7 L1410.7,604.3 L1412.3,605.9 L1413.9,607.4 L1415.5,608.9 L1417.2,610.4 L1418.8,611.9 L1420.4,613.4 L1422.0,614.8 L1423.6,616.2 L1425.2,617.7 L1426.8,619.1 L1428.4,620.4 L1430.0,621.8 L1431.6,623.1 L1433.2,624.5 L1434.8,625.8 L1436.4,627.1 L1438.1,628.4 L1439.7,629.6 L1441.3,630.9 L1442.9,632.1 L1444.5,633.3 L1446.1,634.5 L1447.7,635.7 L1449.3,636.9 L1450.9,638.1 L1452.5,639.2 L1454.1,640.3 L1455.7,641.4 L1457.3,642.5 L1459.0,643.6 L1460.6,644.7 L1462.2,645.8 L1463.8,646.8 L1465.4,647.8 L1467.0,648.9 L1468.6,649.9 L1470.2,650.9 L1471.8,651.8 L1473.4,652.8 L1475.0,653.8 L1476.6,654.7 L1478.2,655.6 L1479.9,656.6 L1481.5,657.5 L1483.1,658.4 L1484.7,659.2 L1486.3,660.1 L1487.9,661.0 L1489.5,661.8 L1491.1,662.7 L1492.7,663.5 L1494.3,664.3 L1495.9,665.1 L1497.5,665.9 L1499.1,666.7 L1500.8,667.5 L1502.4,668.2 L1504.0,669.0 L1505.6,669.7 L1507.2,670.5 L1508.8,671.2 L1510.4,671.9 L1512.0,672.6 L1513.6,673.3 L1515.2,674.0 L1516.8,674.7 L1518.4,675.4 L1520.0,676.0 L1521.7,676.7 L1523.3,677.3 L1524.9,678.0 L1526.5,678.6 L1528.1,679.2 L1529.7,679.8 L1531.3,680.5 L1532.9,681.1 L1534.5,681.6 L1536.1,682.2 L1537.7,682.8 L1539.3,683.4 L1540.9,683.9 L1542.6,684.5 L1544.2,685.0 L1545.8,685.6 L1547.4,686.1 L1549.0,686.6 L1550.6,687.1 L1552.2,687.7 L1553.8,688.2 L1555.4,688.7 L1557.0,689.2 L1558.6,689.6 L1560.2,690.1 L1561.8,690.6 L1563.5,691.1 L1565.1,691.5 L1566.7,692.0 L1568.3,692.4 L1569.9,692.9 L1571.5,693.3 L1573.1,693.8 L1574.7,694.2 L1576.3,694.6 L1577.9,695.0 L1579.5,695.5 L1581.1,695.9 L1582.7,696.3 L1584.4,696.7 L1586.0,697.1 L1587.6,697.4 L1589.2,697.8 L1590.8,698.2 L1592.4,698.6 L1594.0,698.9 L1595.6,699.3 L1597.2,699.7 L1598.8,700.0 L1600.4,700.4 L1602.0,700.7 L1603.6,701.1 L1605.3,701.4 L1606.9,701.7 L1608.5,702.1 L1610.1,702.4 L1611.7,702.7 L1613.3,703.0 L1614.9,703.4 L1616.5,703.7 L1618.1,704.0 L1619.7,704.3 L1621.3,704.6 L1622.9,704.9 L1624.5,705.2 L1626.2,705.5 L1627.8,705.7 L1629.4,706.0 L1631.0,706.3 L1632.6,706.6 L1634.2,706.9 L1635.8,707.1 L1637.4,707.4 L1639.0,707.7 L1640.6,707.9 L1642.2,708.2 L1643.8,708.4 L1645.4,708.7 L1647.1,708.9 L1648.7,709.2 L1650.3,709.4 L1651.9,709.7 L1653.5,709.9 L1655.1,710.1 L1656.7,710.4 L1658.3,710.6 L1659.9,710.8 L1661.5,711.0 L1663.1,711.3 L1664.7,711.5 L1666.3,711.7 L1668.0,711.9 L1669.6,712.1 L1671.2,712.3 L1672.8,712.5 L1674.4,712.7 L1676.0,712.9 L1677.6,713.1 L1679.2,713.3 L1680.8,713.5 L1682.4,713.7 L1684.0,713.9 L1685.6,714.1 L1687.2,714.3 L1688.9,714.5 L1690.5,714.6 L1692.1,714.8 L1693.7,715.0 L1695.3,715.2 L1696.9,715.3 L1698.5,715.5 L1700.1,715.7 L1701.7,715.9 L1703.3,716.0 L1704.9,716.2 L1706.5,716.4 L1708.1,716.5 L1709.8,716.7 L1711.4,716.8 L1713.0,717.0 L1714.6,717.1 L1716.2,717.3 L1717.8,717.4 L1719.4,717.6" fill="none" stroke="#D95319" stroke-width="3.6" stroke-dasharray="13 13" stroke-dashoffset="6"/>
<path d="M1077.9,199.9 L1079.5,200.6 L1081.1,201.2 L1082.7,201.9 L1084.4,202.6 L1086.0,203.3 L1087.6,203.9 L1089.2,204.6 L1090.8,205.3 L1092.4,205.9 L1094.0,206.6 L1095.6,207.3 L1097.2,208.0 L1098.8,208.6 L1100.4,209.3 L1102.0,210.0 L1103.6,210.6 L1105.3,211.3 L1106.9,212.0 L1108.5,212.7 L1110.1,213.3 L1111.7,214.0 L1113.3,214.7 L1114.9,215.4 L1116.5,216.0 L1118.1,216.7 L1119.7,217.4 L1121.3,218.1 L1122.9,218.8 L1124.5,219.4 L1126.2,220.1 L1127.8,220.8 L1129.4,221.5 L1131.0,222.2 L1132.6,222.8 L1134.2,223.5 L1135.8,224.2 L1137.4,224.9 L1139.0,225.6 L1140.6,226.3 L1142.2,227.0 L1143.8,227.6 L1145.4,228.3 L1147.1,229.0 L1148.7,229.7 L1150.3,230.4 L1151.9,231.1 L1153.5,231.8 L1155.1,232.5 L1156.7,233.2 L1158.3,233.9 L1159.9,234.6 L1161.5,235.3 L1163.1,235.9 L1164.7,236.6 L1166.3,237.3 L1168.0,238.0 L1169.6,238.7 L1171.2,239.4 L1172.8,240.1 L1174.4,240.8 L1176.0,241.5 L1177.6,242.3 L1179.2,243.0 L1180.8,243.7 L1182.4,244.4 L1184.0,245.1 L1185.6,245.8 L1187.2,246.5 L1188.9,247.2 L1190.5,247.9 L1192.1,248.6 L1193.7,249.4 L1195.3,250.1 L1196.9,250.8 L1198.5,251.5 L1200.1,252.3 L1201.7,253.0 L1203.3,253.7 L1204.9,254.5 L1206.5,255.2 L1208.1,255.9 L1209.8,256.7 L1211.4,257.4 L1213.0,258.2 L1214.6,259.0 L1216.2,259.7 L1217.8,260.5 L1219.4,261.3 L1221.0,262.0 L1222.6,262.8 L1224.2,263.6 L1225.8,264.4 L1227.4,265.2 L1229.0,266.0 L1230.7,266.9 L1232.3,267.7 L1233.9,268.5 L1235.5,269.3 L1237.1,270.2 L1238.7,271.0 L1240.3,271.9 L1241.9,272.8 L1243.5,273.6 L1245.1,274.5 L1246.7,275.4 L1248.3,276.3 L1249.9,277.2 L1251.6,278.2 L1253.2,279.1 L1254.8,280.0 L1256.4,281.0 L1258.0,281.9 L1259.6,282.9 L1261.2,283.9 L1262.8,284.9 L1264.4,285.9 L1266.0,286.9 L1267.6,287.9 L1269.2,288.9 L1270.8,290.0 L1272.5,291.0 L1274.1,292.1 L1275.7,293.2 L1277.3,294.2 L1278.9,295.3 L1280.5,296.5 L1282.1,297.6 L1283.7,298.7 L1285.3,299.9 L1286.9,301.0 L1288.5,302.2 L1290.1,303.4 L1291.7,304.5 L1293.4,305.8 L1295.0,307.0 L1296.6,308.2 L1298.2,309.4 L1299.8,310.7 L1301.4,311.9 L1303.0,313.2 L1304.6,314.5 L1306.2,315.8 L1307.8,317.1 L1309.4,318.4 L1311.0,319.8 L1312.7,321.1 L1314.3,322.5 L1315.9,323.9 L1317.5,325.2 L1319.1,326.6 L1320.7,328.0 L1322.3,329.4 L1323.9,330.9 L1325.5,332.3 L1327.1,333.8 L1328.7,335.2 L1330.3,336.7 L1331.9,338.2 L1333.6,339.7 L1335.2,341.2 L1336.8,342.7 L1338.4,344.2 L1340.0,345.7 L1341.6,347.3 L1343.2,348.8 L1344.8,350.4 L1346.4,352.0 L1348.0,353.6 L1349.6,355.2 L1351.2,356.8 L1352.8,358.4 L1354.5,360.0 L1356.1,361.6 L1357.7,363.3 L1359.3,364.9 L1360.9,366.6 L1362.5,368.2 L1364.1,369.9 L1365.7,371.6 L1367.3,373.3 L1368.9,375.0 L1370.5,376.7 L1372.1,378.4 L1373.7,380.1 L1375.4,381.8 L1377.0,383.5 L1378.6,385.2 L1380.2,387.0 L1381.8,388.7 L1383.4,390.5 L1385.0,392.2 L1386.6,394.0 L1388.2,395.7 L1389.8,397.5 L1391.4,399.3 L1393.0,401.1 L1394.6,402.8 L1396.3,404.6 L1397.9,406.4 L1399.5,408.2 L1401.1,410.0 L1402.7,411.8 L1404.3,413.6 L1405.9,415.4 L1407.5,417.2 L1409.1,419.0 L1410.7,420.8 L1412.3,422.6 L1413.9,424.4 L1415.5,426.2 L1417.2,428.0 L1418.8,429.8 L1420.4,431.6 L1422.0,433.4 L1423.6,435.2 L1425.2,437.1 L1426.8,438.9 L1428.4,440.7 L1430.0,442.5 L1431.6,444.3 L1433.2,446.1 L1434.8,447.9 L1436.4,449.7 L1438.1,451.5 L1439.7,453.3 L1441.3,455.1 L1442.9,456.9 L1444.5,458.7 L1446.1,460.4 L1447.7,462.2 L1449.3,464.0 L1450.9,465.8 L1452.5,467.5 L1454.1,469.3 L1455.7,471.1 L1457.3,472.8 L1459.0,474.6 L1460.6,476.3 L1462.2,478.1 L1463.8,479.8 L1465.4,481.6 L1467.0,483.3 L1468.6,485.0 L1470.2,486.8 L1471.8,488.5 L1473.4,490.2 L1475.0,491.9 L1476.6,493.6 L1478.2,495.3 L1479.9,497.0 L1481.5,498.6 L1483.1,500.3 L1484.7,502.0 L1486.3,503.7 L1487.9,505.3 L1489.5,507.0 L1491.1,508.6 L1492.7,510.2 L1494.3,511.9 L1495.9,513.5 L1497.5,515.1 L1499.1,516.7 L1500.8,518.3 L1502.4,519.9 L1504.0,521.5 L1505.6,523.0 L1507.2,524.6 L1508.8,526.2 L1510.4,527.7 L1512.0,529.3 L1513.6,530.8 L1515.2,532.3 L1516.8,533.8 L1518.4,535.4 L1520.0,536.9 L1521.7,538.4 L1523.3,539.8 L1524.9,541.3 L1526.5,542.8 L1528.1,544.2 L1529.7,545.7 L1531.3,547.1 L1532.9,548.6 L1534.5,550.0 L1536.1,551.4 L1537.7,552.8 L1539.3,554.2 L1540.9,555.6 L1542.6,557.0 L1544.2,558.4 L1545.8,559.8 L1547.4,561.1 L1549.0,562.5 L1550.6,563.8 L1552.2,565.1 L1553.8,566.4 L1555.4,567.8 L1557.0,569.1 L1558.6,570.4 L1560.2,571.7 L1561.8,572.9 L1563.5,574.2 L1565.1,575.5 L1566.7,576.7 L1568.3,578.0 L1569.9,579.2 L1571.5,580.4 L1573.1,581.6 L1574.7,582.8 L1576.3,584.0 L1577.9,585.2 L1579.5,586.4 L1581.1,587.6 L1582.7,588.8 L1584.4,589.9 L1586.0,591.1 L1587.6,592.2 L1589.2,593.3 L1590.8,594.5 L1592.4,595.6 L1594.0,596.7 L1595.6,597.8 L1597.2,598.9 L1598.8,599.9 L1600.4,601.0 L1602.0,602.1 L1603.6,603.1 L1605.3,604.2 L1606.9,605.2 L1608.5,606.3 L1610.1,607.3 L1611.7,608.3 L1613.3,609.3 L1614.9,610.3 L1616.5,611.3 L1618.1,612.3 L1619.7,613.3 L1621.3,614.2 L1622.9,615.2 L1624.5,616.1 L1626.2,617.1 L1627.8,618.0 L1629.4,618.9 L1631.0,619.9 L1632.6,620.8 L1634.2,621.7 L1635.8,622.6 L1637.4,623.5 L1639.0,624.4 L1640.6,625.3 L1642.2,626.1 L1643.8,627.0 L1645.4,627.8 L1647.1,628.7 L1648.7,629.5 L1650.3,630.4 L1651.9,631.2 L1653.5,632.0 L1655.1,632.8 L1656.7,633.6 L1658.3,634.4 L1659.9,635.2 L1661.5,636.0 L1663.1,636.8 L1664.7,637.6 L1666.3,638.4 L1668.0,639.1 L1669.6,639.9 L1671.2,640.6 L1672.8,641.4 L1674.4,642.1 L1676.0,642.8 L1677.6,643.5 L1679.2,644.3 L1680.8,645.0 L1682.4,645.7 L1684.0,646.4 L1685.6,647.1 L1687.2,647.8 L1688.9,648.4 L1690.5,649.1 L1692.1,649.8 L1693.7,650.5 L1695.3,651.1 L1696.9,651.8 L1698.5,652.4 L1700.1,653.1 L1701.7,653.7 L1703.3,654.3 L1704.9,654.9 L1706.5,655.6 L1708.1,656.2 L1709.8,656.8 L1711.4,657.4 L1713.0,658.0 L1714.6,658.6 L1716.2,659.2 L1717.8,659.8 L1719.4,660.3" fill="none" stroke="#EDB120" stroke-width="3.6" stroke-dasharray="13 13" stroke-dashoffset="9"/>
<path d="M1077.9,190.5 L1079.5,190.9 L1081.1,191.3 L1082.7,191.7 L1084.4,192.1 L1086.0,192.5 L1087.6,192.9 L1089.2,193.3 L1090.8,193.7 L1092.4,194.1 L1094.0,194.5 L1095.6,194.9 L1097.2,195.3 L1098.8,195.7 L1100.4,196.1 L1102.0,196.5 L1103.6,196.9 L1105.3,197.3 L1106.9,197.7 L1108.5,198.1 L1110.1,198.5 L1111.7,198.9 L1113.3,199.3 L1114.9,199.7 L1116.5,200.1 L1118.1,200.5 L1119.7,200.9 L1121.3,201.3 L1122.9,201.7 L1124.5,202.1 L1126.2,202.5 L1127.8,202.9 L1129.4,203.3 L1131.0,203.7 L1132.6,204.1 L1134.2,204.5 L1135.8,204.9 L1137.4,205.3 L1139.0,205.7 L1140.6,206.1 L1142.2,206.6 L1143.8,207.0 L1145.4,207.4 L1147.1,207.8 L1148.7,208.2 L1150.3,208.6 L1151.9,209.0 L1153.5,209.4 L1155.1,209.8 L1156.7,210.2 L1158.3,210.6 L1159.9,211.0 L1161.5,211.4 L1163.1,211.8 L1164.7,212.2 L1166.3,212.6 L1168.0,213.0 L1169.6,213.4 L1171.2,213.8 L1172.8,214.2 L1174.4,214.6 L1176.0,215.0 L1177.6,215.4 L1179.2,215.8 L1180.8,216.3 L1182.4,216.7 L1184.0,217.1 L1185.6,217.5 L1187.2,217.9 L1188.9,218.3 L1190.5,218.7 L1192.1,219.1 L1193.7,219.5 L1195.3,219.9 L1196.9,220.3 L1198.5,220.7 L1200.1,221.1 L1201.7,221.6 L1203.3,222.0 L1204.9,222.4 L1206.5,222.8 L1208.1,223.2 L1209.8,223.6 L1211.4,224.0 L1213.0,224.4 L1214.6,224.8 L1216.2,225.2 L1217.8,225.7 L1219.4,226.1 L1221.0,226.5 L1222.6,226.9 L1224.2,227.3 L1225.8,227.7 L1227.4,228.1 L1229.0,228.5 L1230.7,229.0 L1232.3,229.4 L1233.9,229.8 L1235.5,230.2 L1237.1,230.6 L1238.7,231.0 L1240.3,231.4 L1241.9,231.9 L1243.5,232.3 L1245.1,232.7 L1246.7,233.1 L1248.3,233.5 L1249.9,233.9 L1251.6,234.4 L1253.2,234.8 L1254.8,235.2 L1256.4,235.6 L1258.0,236.0 L1259.6,236.4 L1261.2,236.9 L1262.8,237.3 L1264.4,237.7 L1266.0,238.1 L1267.6,238.5 L1269.2,239.0 L1270.8,239.4 L1272.5,239.8 L1274.1,240.2 L1275.7,240.6 L1277.3,241.1 L1278.9,241.5 L1280.5,241.9 L1282.1,242.3 L1283.7,242.8 L1285.3,243.2 L1286.9,243.6 L1288.5,244.0 L1290.1,244.4 L1291.7,244.9 L1293.4,245.3 L1295.0,245.7 L1296.6,246.2 L1298.2,246.6 L1299.8,247.0 L1301.4,247.4 L1303.0,247.9 L1304.6,248.3 L1306.2,248.7 L1307.8,249.2 L1309.4,249.6 L1311.0,250.0 L1312.7,250.5 L1314.3,250.9 L1315.9,251.3 L1317.5,251.8 L1319.1,252.2 L1320.7,252.6 L1322.3,253.1 L1323.9,253.5 L1325.5,254.0 L1327.1,254.4 L1328.7,254.8 L1330.3,255.3 L1331.9,255.7 L1333.6,256.2 L1335.2,256.6 L1336.8,257.1 L1338.4,257.5 L1340.0,258.0 L1341.6,258.4 L1343.2,258.9 L1344.8,259.3 L1346.4,259.8 L1348.0,260.3 L1349.6,260.7 L1351.2,261.2 L1352.8,261.7 L1354.5,262.1 L1356.1,262.6 L1357.7,263.1 L1359.3,263.6 L1360.9,264.0 L1362.5,264.5 L1364.1,265.0 L1365.7,265.5 L1367.3,266.0 L1368.9,266.5 L1370.5,266.9 L1372.1,267.4 L1373.7,267.9 L1375.4,268.4 L1377.0,268.9 L1378.6,269.4 L1380.2,269.9 L1381.8,270.4 L1383.4,271.0 L1385.0,271.5 L1386.6,272.0 L1388.2,272.5 L1389.8,273.0 L1391.4,273.6 L1393.0,274.1 L1394.6,274.6 L1396.3,275.2 L1397.9,275.7 L1399.5,276.2 L1401.1,276.8 L1402.7,277.3 L1404.3,277.9 L1405.9,278.4 L1407.5,279.0 L1409.1,279.6 L1410.7,280.1 L1412.3,280.7 L1413.9,281.3 L1415.5,281.8 L1417.2,282.4 L1418.8,283.0 L1420.4,283.6 L1422.0,284.2 L1423.6,284.8 L1425.2,285.4 L1426.8,286.0 L1428.4,286.6 L1430.0,287.2 L1431.6,287.8 L1433.2,288.4 L1434.8,289.0 L1436.4,289.7 L1438.1,290.3 L1439.7,290.9 L1441.3,291.6 L1442.9,292.2 L1444.5,292.8 L1446.1,293.5 L1447.7,294.1 L1449.3,294.8 L1450.9,295.5 L1452.5,296.1 L1454.1,296.8 L1455.7,297.5 L1457.3,298.1 L1459.0,298.8 L1460.6,299.5 L1462.2,300.2 L1463.8,300.9 L1465.4,301.6 L1467.0,302.3 L1468.6,303.0 L1470.2,303.7 L1471.8,304.4 L1473.4,305.2 L1475.0,305.9 L1476.6,306.6 L1478.2,307.3 L1479.9,308.1 L1481.5,308.8 L1483.1,309.6 L1484.7,310.3 L1486.3,311.1 L1487.9,311.8 L1489.5,312.6 L1491.1,313.4 L1492.7,314.1 L1494.3,314.9 L1495.9,315.7 L1497.5,316.5 L1499.1,317.3 L1500.8,318.1 L1502.4,318.9 L1504.0,319.7 L1505.6,320.5 L1507.2,321.3 L1508.8,322.1 L1510.4,322.9 L1512.0,323.7 L1513.6,324.6 L1515.2,325.4 L1516.8,326.2 L1518.4,327.1 L1520.0,327.9 L1521.7,328.7 L1523.3,329.6 L1524.9,330.5 L1526.5,331.3 L1528.1,332.2 L1529.7,333.0 L1531.3,333.9 L1532.9,334.8 L1534.5,335.7 L1536.1,336.6 L1537.7,337.4 L1539.3,338.3 L1540.9,339.2 L1542.6,340.1 L1544.2,341.0 L1545.8,341.9 L1547.4,342.9 L1549.0,343.8 L1550.6,344.7 L1552.2,345.6 L1553.8,346.5 L1555.4,347.5 L1557.0,348.4 L1558.6,349.3 L1560.2,350.3 L1561.8,351.2 L1563.5,352.2 L1565.1,353.1 L1566.7,354.1 L1568.3,355.0 L1569.9,356.0 L1571.5,356.9 L1573.1,357.9 L1574.7,358.9 L1576.3,359.9 L1577.9,360.8 L1579.5,361.8 L1581.1,362.8 L1582.7,363.8 L1584.4,364.8 L1586.0,365.8 L1587.6,366.7 L1589.2,367.7 L1590.8,368.7 L1592.4,369.7 L1594.0,370.8 L1595.6,371.8 L1597.2,372.8 L1598.8,373.8 L1600.4,374.8 L1602.0,375.8 L1603.6,376.8 L1605.3,377.9 L1606.9,378.9 L1608.5,379.9 L1610.1,380.9 L1611.7,382.0 L1613.3,383.0 L1614.9,384.0 L1616.5,385.1 L1618.1,386.1 L1619.7,387.2 L1621.3,388.2 L1622.9,389.3 L1624.5,390.3 L1626.2,391.4 L1627.8,392.4 L1629.4,393.5 L1631.0,394.5 L1632.6,395.6 L1634.2,396.6 L1635.8,397.7 L1637.4,398.8 L1639.0,399.8 L1640.6,400.9 L1642.2,402.0 L1643.8,403.0 L1645.4,404.1 L1647.1,405.2 L1648.7,406.2 L1650.3,407.3 L1651.9,408.4 L1653.5,409.5 L1655.1,410.5 L1656.7,411.6 L1658.3,412.7 L1659.9,413.8 L1661.5,414.8 L1663.1,415.9 L1664.7,417.0 L1666.3,418.1 L1668.0,419.2 L1669.6,420.3 L1671.2,421.3 L1672.8,422.4 L1674.4,423.5 L1676.0,424.6 L1677.6,425.7 L1679.2,426.8 L1680.8,427.8 L1682.4,428.9 L1684.0,430.0 L1685.6,431.1 L1687.2,432.2 L1688.9,433.3 L1690.5,434.4 L1692.1,435.4 L1693.7,436.5 L1695.3,437.6 L1696.9,438.7 L1698.5,439.8 L1700.1,440.9 L1701.7,441.9 L1703.3,443.0 L1704.9,444.1 L1706.5,445.2 L1708.1,446.3 L1709.8,447.4 L1711.4,448.4 L1713.0,449.5 L1714.6,450.6 L1716.2,451.7 L1717.8,452.8 L1719.4,453.8" fill="none" stroke="#7E2F8E" stroke-width="3.6" stroke-dasharray="13 13" stroke-dashoffset="4"/>
<path d="M1077.9,183.4 L1079.5,183.6 L1081.1,183.8 L1082.7,184.0 L1084.4,184.2 L1086.0,184.4 L1087.6,184.6 L1089.2,184.8 L1090.8,185.0 L1092.4,185.2 L1094.0,185.4 L1095.6,185.6 L1097.2,185.8 L1098.8,186.0 L1100.4,186.2 L1102.0,186.4 L1103.6,186.6 L1105.3,186.8 L1106.9,187.0 L1108.5,187.2 L1110.1,187.4 L1111.7,187.6 L1113.3,187.8 L1114.9,188.0 L1116.5,188.2 L1118.1,188.4 L1119.7,188.6 L1121.3,188.8 L1122.9,189.0 L1124.5,189.2 L1126.2,189.4 L1127.8,189.6 L1129.4,189.8 L1131.0,190.0 L1132.6,190.2 L1134.2,190.4 L1135.8,190.6 L1137.4,190.8 L1139.0,191.0 L1140.6,191.2 L1142.2,191.4 L1143.8,191.6 L1145.4,191.8 L1147.1,192.0 L1148.7,192.2 L1150.3,192.4 L1151.9,192.6 L1153.5,192.8 L1155.1,193.0 L1156.7,193.2 L1158.3,193.4 L1159.9,193.6 L1161.5,193.8 L1163.1,194.0 L1164.7,194.2 L1166.3,194.4 L1168.0,194.7 L1169.6,194.9 L1171.2,195.1 L1172.8,195.3 L1174.4,195.5 L1176.0,195.7 L1177.6,195.9 L1179.2,196.1 L1180.8,196.3 L1182.4,196.5 L1184.0,196.7 L1185.6,196.9 L1187.2,197.1 L1188.9,197.3 L1190.5,197.5 L1192.1,197.7 L1193.7,197.9 L1195.3,198.1 L1196.9,198.3 L1198.5,198.5 L1200.1,198.7 L1201.7,198.9 L1203.3,199.1 L1204.9,199.3 L1206.5,199.5 L1208.1,199.7 L1209.8,199.9 L1211.4,200.1 L1213.0,200.3 L1214.6,200.5 L1216.2,200.7 L1217.8,200.9 L1219.4,201.1 L1221.0,201.3 L1222.6,201.5 L1224.2,201.7 L1225.8,201.9 L1227.4,202.1 L1229.0,202.3 L1230.7,202.5 L1232.3,202.7 L1233.9,202.9 L1235.5,203.1 L1237.1,203.3 L1238.7,203.5 L1240.3,203.7 L1241.9,203.9 L1243.5,204.1 L1245.1,204.3 L1246.7,204.5 L1248.3,204.7 L1249.9,204.9 L1251.6,205.1 L1253.2,205.3 L1254.8,205.5 L1256.4,205.7 L1258.0,205.9 L1259.6,206.1 L1261.2,206.3 L1262.8,206.5 L1264.4,206.7 L1266.0,206.9 L1267.6,207.1 L1269.2,207.3 L1270.8,207.5 L1272.5,207.7 L1274.1,207.9 L1275.7,208.1 L1277.3,208.3 L1278.9,208.5 L1280.5,208.7 L1282.1,208.9 L1283.7,209.1 L1285.3,209.3 L1286.9,209.5 L1288.5,209.7 L1290.1,209.9 L1291.7,210.1 L1293.4,210.3 L1295.0,210.5 L1296.6,210.7 L1298.2,210.9 L1299.8,211.1 L1301.4,211.3 L1303.0,211.6 L1304.6,211.8 L1306.2,212.0 L1307.8,212.2 L1309.4,212.4 L1311.0,212.6 L1312.7,212.8 L1314.3,213.0 L1315.9,213.2 L1317.5,213.4 L1319.1,213.6 L1320.7,213.8 L1322.3,214.0 L1323.9,214.2 L1325.5,214.4 L1327.1,214.6 L1328.7,214.8 L1330.3,215.0 L1331.9,215.2 L1333.6,215.4 L1335.2,215.6 L1336.8,215.8 L1338.4,216.0 L1340.0,216.2 L1341.6,216.4 L1343.2,216.6 L1344.8,216.8 L1346.4,217.0 L1348.0,217.2 L1349.6,217.4 L1351.2,217.6 L1352.8,217.8 L1354.5,218.0 L1356.1,218.2 L1357.7,218.4 L1359.3,218.6 L1360.9,218.9 L1362.5,219.1 L1364.1,219.3 L1365.7,219.5 L1367.3,219.7 L1368.9,219.9 L1370.5,220.1 L1372.1,220.3 L1373.7,220.5 L1375.4,220.7 L1377.0,220.9 L1378.6,221.1 L1380.2,221.3 L1381.8,221.5 L1383.4,221.7 L1385.0,221.9 L1386.6,222.1 L1388.2,222.3 L1389.8,222.5 L1391.4,222.7 L1393.0,222.9 L1394.6,223.1 L1396.3,223.3 L1397.9,223.6 L1399.5,223.8 L1401.1,224.0 L1402.7,224.2 L1404.3,224.4 L1405.9,224.6 L1407.5,224.8 L1409.1,225.0 L1410.7,225.2 L1412.3,225.4 L1413.9,225.6 L1415.5,225.8 L1417.2,226.0 L1418.8,226.2 L1420.4,226.4 L1422.0,226.6 L1423.6,226.8 L1425.2,227.0 L1426.8,227.3 L1428.4,227.5 L1430.0,227.7 L1431.6,227.9 L1433.2,228.1 L1434.8,228.3 L1436.4,228.5 L1438.1,228.7 L1439.7,228.9 L1441.3,229.1 L1442.9,229.3 L1444.5,229.5 L1446.1,229.7 L1447.7,229.9 L1449.3,230.1 L1450.9,230.4 L1452.5,230.6 L1454.1,230.8 L1455.7,231.0 L1457.3,231.2 L1459.0,231.4 L1460.6,231.6 L1462.2,231.8 L1463.8,232.0 L1465.4,232.2 L1467.0,232.4 L1468.6,232.6 L1470.2,232.8 L1471.8,233.1 L1473.4,233.3 L1475.0,233.5 L1476.6,233.7 L1478.2,233.9 L1479.9,234.1 L1481.5,234.3 L1483.1,234.5 L1484.7,234.7 L1486.3,234.9 L1487.9,235.1 L1489.5,235.4 L1491.1,235.6 L1492.7,235.8 L1494.3,236.0 L1495.9,236.2 L1497.5,236.4 L1499.1,236.6 L1500.8,236.8 L1502.4,237.0 L1504.0,237.2 L1505.6,237.4 L1507.2,237.7 L1508.8,237.9 L1510.4,238.1 L1512.0,238.3 L1513.6,238.5 L1515.2,238.7 L1516.8,238.9 L1518.4,239.1 L1520.0,239.3 L1521.7,239.5 L1523.3,239.8 L1524.9,240.0 L1526.5,240.2 L1528.1,240.4 L1529.7,240.6 L1531.3,240.8 L1532.9,241.0 L1534.5,241.2 L1536.1,241.4 L1537.7,241.6 L1539.3,241.9 L1540.9,242.1 L1542.6,242.3 L1544.2,242.5 L1545.8,242.7 L1547.4,242.9 L1549.0,243.1 L1550.6,243.3 L1552.2,243.6 L1553.8,243.8 L1555.4,244.0 L1557.0,244.2 L1558.6,244.4 L1560.2,244.6 L1561.8,244.8 L1563.5,245.0 L1565.1,245.3 L1566.7,245.5 L1568.3,245.7 L1569.9,245.9 L1571.5,246.1 L1573.1,246.3 L1574.7,246.5 L1576.3,246.7 L1577.9,247.0 L1579.5,247.2 L1581.1,247.4 L1582.7,247.6 L1584.4,247.8 L1586.0,248.0 L1587.6,248.2 L1589.2,248.5 L1590.8,248.7 L1592.4,248.9 L1594.0,249.1 L1595.6,249.3 L1597.2,249.5 L1598.8,249.8 L1600.4,250.0 L1602.0,250.2 L1603.6,250.4 L1605.3,250.6 L1606.9,250.8 L1608.5,251.1 L1610.1,251.3 L1611.7,251.5 L1613.3,251.7 L1614.9,251.9 L1616.5,252.1 L1618.1,252.4 L1619.7,252.6 L1621.3,252.8 L1622.9,253.0 L1624.5,253.2 L1626.2,253.5 L1627.8,253.7 L1629.4,253.9 L1631.0,254.1 L1632.6,254.3 L1634.2,254.6 L1635.8,254.8 L1637.4,255.0 L1639.0,255.2 L1640.6,255.5 L1642.2,255.7 L1643.8,255.9 L1645.4,256.1 L1647.1,256.4 L1648.7,256.6 L1650.3,256.8 L1651.9,257.0 L1653.5,257.3 L1655.1,257.5 L1656.7,257.7 L1658.3,257.9 L1659.9,258.2 L1661.5,258.4 L1663.1,258.6 L1664.7,258.8 L1666.3,259.1 L1668.0,259.3 L1669.6,259.5 L1671.2,259.8 L1672.8,260.0 L1674.4,260.2 L1676.0,260.5 L1677.6,260.7 L1679.2,260.9 L1680.8,261.1 L1682.4,261.4 L1684.0,261.6 L1685.6,261.8 L1687.2,262.1 L1688.9,262.3 L1690.5,262.6 L1692.1,262.8 L1693.7,263.0 L1695.3,263.3 L1696.9,263.5 L1698.5,263.7 L1700.1,264.0 L1701.7,264.2 L1703.3,264.5 L1704.9,264.7 L1706.5,264.9 L1708.1,265.2 L1709.8,265.4 L1711.4,265.7 L1713.0,265.9 L1714.6,266.2 L1716.2,266.4 L1717.8,266.6 L1719.4,266.9" fill="none" stroke="#77AC30" stroke-width="3.6" stroke-dasharray="13 13" stroke-dashoffset="8"/>
<g fill="none" stroke="#000" stroke-width="5" stroke-linejoin="miter" stroke-miterlimit="10">
<path d="M86.9,6.8V92.6L157.6,149V731"/>
<path d="M451,7V93L369.5,148V728"/>
<path d="M155.1,728.8H880" stroke-width="4.8"/>
<path d="M1022.3,738.6V136" stroke-width="5.4"/>
<path d="M1019.6,736.1H1747" stroke-width="4.6"/>
<path d="M1375.3,11.4V736" stroke-width="4.8"/>
<path d="M1728,11.4V736" stroke-width="4.6"/>
</g>
<path d="M879,721.4L894.5,728.9L879,736.6Z" fill="#000"/>
<path d="M1746.3,728.8L1761.5,736.3L1746.3,744Z" fill="#000"/>
<path d="M1014.8,137.6L1022.3,121.8L1030.3,137.6Z" fill="#000"/>
<path d="M1304.5,799.2H1336.4" stroke="#000" stroke-width="1.8"/>
<text id="t0" x="8.92" y="28.60" font-size="34.90" textLength="24.56" lengthAdjust="spacingAndGlyphs" style="font-family:'Liberation Sans', Arial, sans-serif;font-weight:bold;">A</text>
<text id="t1" x="918.32" y="28.21" font-size="34.33" textLength="22.66" lengthAdjust="spacingAndGlyphs" style="font-family:'Liberation Sans', Arial, sans-serif;font-weight:bold;">B</text>
<text id="t2" x="153.19" y="39.00" font-size="30.50" textLength="233.41" lengthAdjust="spacingAndGlyphs" style="font-family:'Liberation Sans', Arial, sans-serif;font-weight:bold;">frequency range</text>
<text id="t3" x="107.00" y="81.30" font-size="30.50" textLength="326.41" lengthAdjust="spacingAndGlyphs" style="font-family:'Liberation Sans', Arial, sans-serif;font-weight:bold;">on preclinical scanners</text>
<text id="t4" x="1432.00" y="40.40" font-size="30.50" textLength="234.41" lengthAdjust="spacingAndGlyphs" style="font-family:'Liberation Sans', Arial, sans-serif;font-weight:bold;">frequency range</text>
<text id="t5" x="1386.39" y="82.00" font-size="30.50" textLength="326.42" lengthAdjust="spacingAndGlyphs" style="font-family:'Liberation Sans', Arial, sans-serif;font-weight:bold;">on preclinical scanners</text>
<text id="t6" x="88.30" y="176.15" font-size="26.30" textLength="39.37" lengthAdjust="spacingAndGlyphs" style="font-family:'Liberation Sans', Arial, sans-serif;">2.0</text>
<text id="t7" x="88.47" y="288.50" font-size="26.30" textLength="39.24" lengthAdjust="spacingAndGlyphs" style="font-family:'Liberation Sans', Arial, sans-serif;">1.6</text>
<text id="t8" x="88.45" y="403.40" font-size="26.30" textLength="38.64" lengthAdjust="spacingAndGlyphs" style="font-family:'Liberation Sans', Arial, sans-serif;">1.2</text>
<text id="t9" x="88.35" y="516.30" font-size="26.30" textLength="39.32" lengthAdjust="spacingAndGlyphs" style="font-family:'Liberation Sans', Arial, sans-serif;">0.8</text>
<text id="t10" x="88.36" y="627.35" font-size="26.30" textLength="38.08" lengthAdjust="spacingAndGlyphs" style="font-family:'Liberation Sans', Arial, sans-serif;">0.4</text>
<text id="t11" x="106.71" y="737.40" font-size="26.30" textLength="16.73" lengthAdjust="spacingAndGlyphs" style="font-family:'Liberation Sans', Arial, sans-serif;">0</text>
<text id="t12" x="151.02" y="772.05" font-size="26.30" textLength="15.10" lengthAdjust="spacingAndGlyphs" style="font-family:'Liberation Sans', Arial, sans-serif;">0</text>
<text id="t13" x="207.28" y="772.60" font-size="26.30" textLength="45.97" lengthAdjust="spacingAndGlyphs" style="font-family:'Liberation Sans', Arial, sans-serif;">100</text>
<text id="t14" x="278.56" y="770.80" font-size="26.30" textLength="44.86" lengthAdjust="spacingAndGlyphs" style="font-family:'Liberation Sans', Arial, sans-serif;">200</text>
<text id="t15" x="346.16" y="772.45" font-size="26.30" textLength="45.50" lengthAdjust="spacingAndGlyphs" style="font-family:'Liberation Sans', Arial, sans-serif;">300</text>
<text id="t16" x="490.52" y="773.20" font-size="26.30" textLength="45.17" lengthAdjust="spacingAndGlyphs" style="font-family:'Liberation Sans', Arial, sans-serif;">500</text>
<text id="t17" x="834.35" y="770.90" font-size="26.30" textLength="60.69" lengthAdjust="spacingAndGlyphs" style="font-family:'Liberation Sans', Arial, sans-serif;">1000</text>
<text id="t18" x="215.59" y="828.30" font-size="36.17" textLength="334.81" lengthAdjust="spacingAndGlyphs" style="font-family:'Liberation Sans', Arial, sans-serif;">Oscillation frequency</text>
<text id="t19" x="559.58" y="827.68" font-size="37.53" textLength="15.23" lengthAdjust="spacingAndGlyphs" style="font-family:'Liberation Serif', 'Times New Roman', serif;font-style:italic;">f</text>
<text id="t20" x="593.66" y="827.37" font-size="25.70" textLength="28.36" lengthAdjust="spacingAndGlyphs" style="font-family:'Liberation Serif', 'Times New Roman', serif;">=</text>
<text id="t21" x="633.91" y="828.56" font-size="38.74" textLength="27.64" lengthAdjust="spacingAndGlyphs" style="font-family:'Liberation Serif', 'Times New Roman', serif;font-style:italic;">ω</text>
<text id="t22" x="663.56" y="834.04" font-size="51.38" textLength="18.87" lengthAdjust="spacingAndGlyphs" style="font-family:'Liberation Serif', 'Times New Roman', serif;">/</text>
<text id="t23" x="685.41" y="828.53" font-size="34.10" textLength="18.40" lengthAdjust="spacingAndGlyphs" style="font-family:'Liberation Serif', 'Times New Roman', serif;">2</text>
<text id="t24" x="702.99" y="828.59" font-size="44.44" textLength="24.26" lengthAdjust="spacingAndGlyphs" style="font-family:'Liberation Serif', 'Times New Roman', serif;font-style:italic;">π</text>
<text id="t25" x="739.97" y="828.21" font-size="34.94" textLength="60.26" lengthAdjust="spacingAndGlyphs" style="font-family:'Liberation Sans', Arial, sans-serif;font-style:italic;">[Hz]</text>
<text id="t26" x="-558.46" y="35.26" font-size="41.57" textLength="21.46" lengthAdjust="spacingAndGlyphs" transform="rotate(-90)" style="font-family:'Liberation Serif', 'Times New Roman', serif;font-style:italic;">D</text>
<text id="t27" x="-529.90" y="33.74" font-size="39.94" textLength="56.05" lengthAdjust="spacingAndGlyphs" transform="rotate(-90)" style="font-family:'Liberation Serif', 'Times New Roman', serif;">(ω)</text>
<text id="t28" x="-435.39" y="31.99" font-size="28.00" textLength="62.53" lengthAdjust="spacingAndGlyphs" transform="rotate(-90)" style="font-family:'Liberation Sans', Arial, sans-serif;">[µm</text>
<text id="t29" x="-376.16" y="22.81" font-size="20.99" textLength="17.82" lengthAdjust="spacingAndGlyphs" transform="rotate(-90)" style="font-family:'Liberation Sans', Arial, sans-serif;">2</text>
<text id="t30" x="-358.40" y="31.99" font-size="28.00" textLength="72.48" lengthAdjust="spacingAndGlyphs" transform="rotate(-90)" style="font-family:'Liberation Sans', Arial, sans-serif;">/ms]</text>
<text id="t31" x="976.76" y="68.60" font-size="39.00" textLength="22.86" lengthAdjust="spacingAndGlyphs" style="font-family:'Liberation Serif', 'Times New Roman', serif;font-style:italic;">D</text>
<text id="t32" x="1003.51" y="67.84" font-size="39.86" textLength="17.49" lengthAdjust="spacingAndGlyphs" style="font-family:'Liberation Serif', 'Times New Roman', serif;">(</text>
<text id="t33" x="1020.22" y="68.67" font-size="35.22" textLength="27.11" lengthAdjust="spacingAndGlyphs" style="font-family:'Liberation Serif', 'Times New Roman', serif;font-style:italic;">ω</text>
<text id="t34" x="1046.50" y="66.85" font-size="39.80" textLength="17.38" lengthAdjust="spacingAndGlyphs" style="font-family:'Liberation Serif', 'Times New Roman', serif;">)</text>
<text id="t35" x="1087.29" y="67.13" font-size="33.50" textLength="62.88" lengthAdjust="spacingAndGlyphs" style="font-family:'Liberation Sans', Arial, sans-serif;">[µm</text>
<text id="t36" x="1152.93" y="56.56" font-size="23.24" textLength="9.14" lengthAdjust="spacingAndGlyphs" style="font-family:'Liberation Sans', Arial, sans-serif;">2</text>
<text id="t37" x="1164.20" y="65.93" font-size="33.50" textLength="73.12" lengthAdjust="spacingAndGlyphs" style="font-family:'Liberation Sans', Arial, sans-serif;">/ms]</text>
<text id="t38" x="948.56" y="184.15" font-size="26.30" textLength="38.30" lengthAdjust="spacingAndGlyphs" style="font-family:'Liberation Sans', Arial, sans-serif;">2.0</text>
<text id="t39" x="948.03" y="297.60" font-size="26.30" textLength="38.86" lengthAdjust="spacingAndGlyphs" style="font-family:'Liberation Sans', Arial, sans-serif;">1.6</text>
<text id="t40" x="948.03" y="413.10" font-size="26.30" textLength="38.86" lengthAdjust="spacingAndGlyphs" style="font-family:'Liberation Sans', Arial, sans-serif;">1.2</text>
<text id="t41" x="947.74" y="524.15" font-size="26.30" textLength="39.17" lengthAdjust="spacingAndGlyphs" style="font-family:'Liberation Sans', Arial, sans-serif;">0.8</text>
<text id="t42" x="947.77" y="635.75" font-size="26.30" textLength="39.08" lengthAdjust="spacingAndGlyphs" style="font-family:'Liberation Sans', Arial, sans-serif;">0.4</text>
<text id="t43" x="967.33" y="746.40" font-size="26.30" textLength="15.25" lengthAdjust="spacingAndGlyphs" style="font-family:'Liberation Sans', Arial, sans-serif;">0</text>
<text id="t44" x="1015.86" y="782.70" font-size="26.30" textLength="15.68" lengthAdjust="spacingAndGlyphs" style="font-family:'Liberation Sans', Arial, sans-serif;">0</text>
<text id="t45" x="1337.16" y="782.70" font-size="26.30" textLength="69.08" lengthAdjust="spacingAndGlyphs" style="font-family:'Liberation Sans', Arial, sans-serif;">0.025</text>
<text id="t46" x="1695.52" y="782.10" font-size="26.30" textLength="54.14" lengthAdjust="spacingAndGlyphs" style="font-family:'Liberation Sans', Arial, sans-serif;">0.05</text>
<text id="t47" x="1240.53" y="828.63" font-size="40.30" textLength="19.48" lengthAdjust="spacingAndGlyphs" style="font-family:'Liberation Serif', 'Times New Roman', serif;">1</text>
<text id="t48" x="1263.19" y="835.82" font-size="53.92" textLength="15.65" lengthAdjust="spacingAndGlyphs" style="font-family:'Liberation Serif', 'Times New Roman', serif;">/</text>
<text id="t49" x="1306.92" y="828.35" font-size="35.76" textLength="27.86" lengthAdjust="spacingAndGlyphs" style="font-family:'Liberation Serif', 'Times New Roman', serif;font-style:italic;">ω</text>
<text id="t50" x="1346.00" y="827.45" font-size="36.09" textLength="116.82" lengthAdjust="spacingAndGlyphs" style="font-family:'Liberation Sans', Arial, sans-serif;font-style:italic;">[(s/rad)</text>
<text id="t51" x="1464.57" y="817.26" font-size="22.90" textLength="34.27" lengthAdjust="spacingAndGlyphs" style="font-family:'Liberation Sans', Arial, sans-serif;font-style:italic;">1/2</text>
<text id="t52" x="1502.26" y="827.45" font-size="36.09" textLength="8.92" lengthAdjust="spacingAndGlyphs" style="font-family:'Liberation Sans', Arial, sans-serif;font-style:italic;">]</text>
<text id="t53" x="1779.36" y="253.80" font-size="30.50" textLength="224.49" lengthAdjust="spacingAndGlyphs" style="font-family:'Liberation Sans', Arial, sans-serif;font-weight:bold;">Free diffusivity:</text>
<text id="t54" x="1781.91" y="307.46" font-size="30.10" textLength="17.94" lengthAdjust="spacingAndGlyphs" style="font-family:'Liberation Sans', Arial, sans-serif;font-style:italic;">D</text>
<text id="t55" x="1803.35" y="313.71" font-size="17.06" textLength="10.65" lengthAdjust="spacingAndGlyphs" style="font-family:'Liberation Sans', Arial, sans-serif;font-style:italic;">0</text>
<text id="t56" x="1819.86" y="306.50" font-size="27.00" textLength="16.14" lengthAdjust="spacingAndGlyphs" style="font-family:'Liberation Sans', Arial, sans-serif;">=</text>
<text id="t57" x="1845.48" y="307.30" font-size="29.81" textLength="71.85" lengthAdjust="spacingAndGlyphs" style="font-family:'Liberation Sans', Arial, sans-serif;">2 µm</text>
<text id="t58" x="1917.93" y="296.00" font-size="18.42" textLength="10.24" lengthAdjust="spacingAndGlyphs" style="font-family:'Liberation Sans', Arial, sans-serif;">2</text>
<text id="t59" x="1928.80" y="311.29" font-size="39.69" textLength="12.83" lengthAdjust="spacingAndGlyphs" style="font-family:'Liberation Sans', Arial, sans-serif;">/</text>
<text id="t60" x="1941.82" y="307.40" font-size="30.00" textLength="42.06" lengthAdjust="spacingAndGlyphs" style="font-family:'Liberation Sans', Arial, sans-serif;">ms</text>
<text id="t61" x="1779.56" y="393.50" font-size="30.50" textLength="159.49" lengthAdjust="spacingAndGlyphs" style="font-family:'Liberation Sans', Arial, sans-serif;font-weight:bold;">Cell radius:</text>
<text id="t62" x="1781.90" y="444.80" font-size="35.50" textLength="141.57" lengthAdjust="spacingAndGlyphs" style="font-family:'Liberation Sans', Arial, sans-serif;fill:#548235;">R=10 µm</text>
<text id="t63" x="1781.84" y="476.90" font-size="35.50" textLength="123.24" lengthAdjust="spacingAndGlyphs" style="font-family:'Liberation Sans', Arial, sans-serif;fill:#7030A0;">R=5 µm</text>
<text id="t64" x="1781.85" y="508.80" font-size="35.50" textLength="123.28" lengthAdjust="spacingAndGlyphs" style="font-family:'Liberation Sans', Arial, sans-serif;fill:#BF9000;">R=3 µm</text>
<text id="t65" x="1782.86" y="538.40" font-size="35.50" textLength="122.26" lengthAdjust="spacingAndGlyphs" style="font-family:'Liberation Sans', Arial, sans-serif;fill:#C55A11;">R=2 µm</text>
<text id="t66" x="1781.84" y="571.90" font-size="35.50" textLength="123.24" lengthAdjust="spacingAndGlyphs" style="font-family:'Liberation Sans', Arial, sans-serif;fill:#2E75B6;">R=1 µm</text>
<text id="t67" x="1280.35" y="834.84" font-size="45.09" textLength="24.71" lengthAdjust="spacingAndGlyphs" style="font-family:'Liberation Serif', 'Times New Roman', serif;">√</text>
</svg></body></html>
